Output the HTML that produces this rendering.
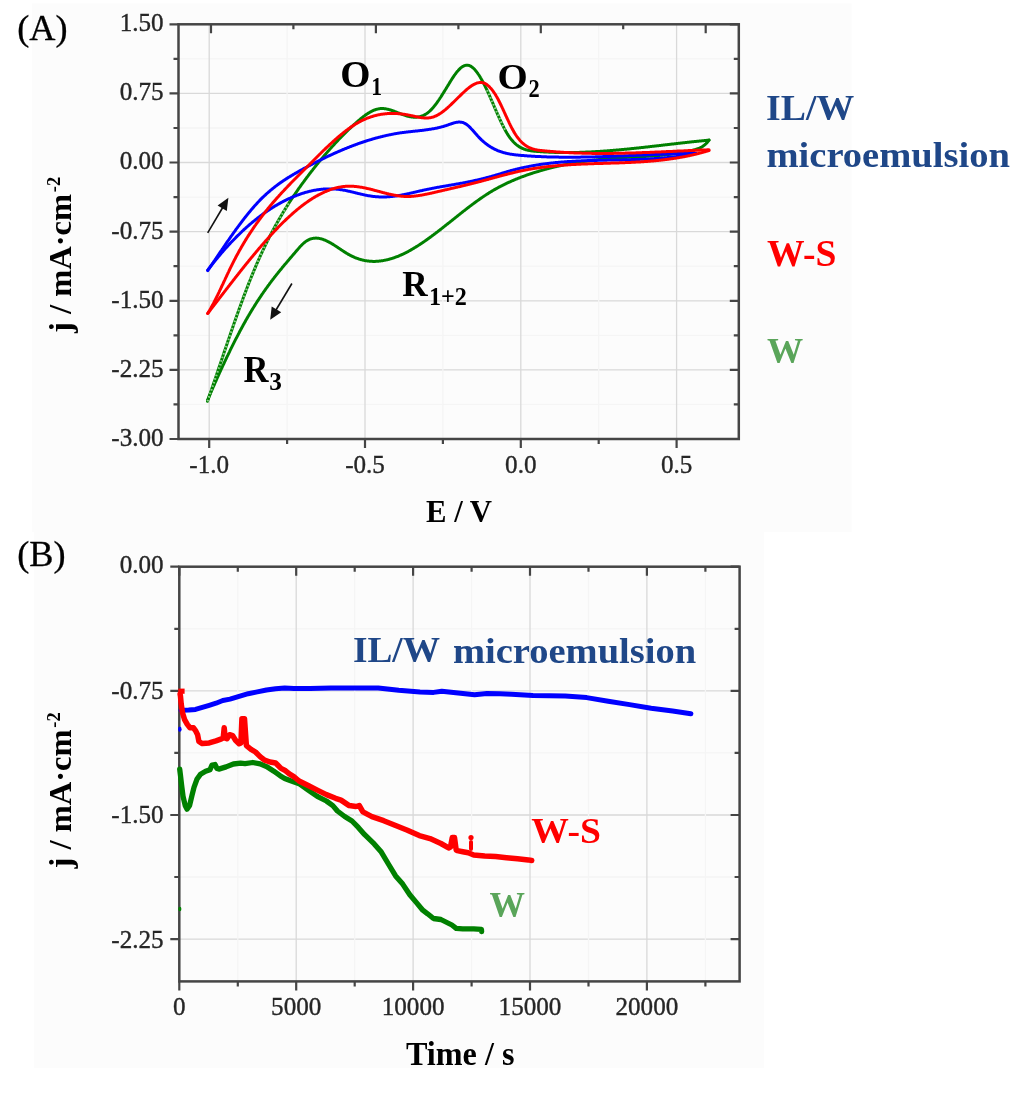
<!DOCTYPE html>
<html><head><meta charset="utf-8"><style>
html,body{margin:0;padding:0;background:#fff;width:1024px;height:1097px;overflow:hidden}
svg{display:block;filter:blur(0.5px)}
text{font-family:"Liberation Serif",serif}
.tk{fill:#262626;stroke:#262626;stroke-width:0.35px}
.tl{font-size:24px}
.at{font-size:32px;font-weight:bold;fill:#111}
.pl{font-size:35px}
.pk{font-size:36px;font-weight:bold;fill:#111}
.sub{font-size:26px}
.lg{font-size:36px;font-weight:bold}
</style></head><body>
<svg width="1024" height="1097" viewBox="0 0 1024 1097">
<rect width="1024" height="1097" fill="#fff"/>
<rect x="32" y="3.5" width="819.5" height="528.5" fill="#fcfcfc"/>
<rect x="34" y="532" width="730" height="536" fill="#fcfcfc"/>
<line x1="178.5" x2="738.8" y1="58.9" y2="58.9" stroke="#f5f5f5" stroke-width="1.3"/>
<line x1="178.5" x2="738.8" y1="93.4" y2="93.4" stroke="#d9d9d9" stroke-width="1.3"/>
<line x1="178.5" x2="738.8" y1="128.0" y2="128.0" stroke="#f5f5f5" stroke-width="1.3"/>
<line x1="178.5" x2="738.8" y1="162.5" y2="162.5" stroke="#d9d9d9" stroke-width="1.3"/>
<line x1="178.5" x2="738.8" y1="197.1" y2="197.1" stroke="#f5f5f5" stroke-width="1.3"/>
<line x1="178.5" x2="738.8" y1="231.7" y2="231.7" stroke="#d9d9d9" stroke-width="1.3"/>
<line x1="178.5" x2="738.8" y1="266.2" y2="266.2" stroke="#f5f5f5" stroke-width="1.3"/>
<line x1="178.5" x2="738.8" y1="300.8" y2="300.8" stroke="#d9d9d9" stroke-width="1.3"/>
<line x1="178.5" x2="738.8" y1="335.3" y2="335.3" stroke="#f5f5f5" stroke-width="1.3"/>
<line x1="178.5" x2="738.8" y1="369.9" y2="369.9" stroke="#d9d9d9" stroke-width="1.3"/>
<line x1="178.5" x2="738.8" y1="404.4" y2="404.4" stroke="#f5f5f5" stroke-width="1.3"/>
<line x1="209.2" x2="209.2" y1="24.3" y2="439.0" stroke="#d9d9d9" stroke-width="1.3"/>
<line x1="287.1" x2="287.1" y1="24.3" y2="439.0" stroke="#f5f5f5" stroke-width="1.3"/>
<line x1="365.0" x2="365.0" y1="24.3" y2="439.0" stroke="#d9d9d9" stroke-width="1.3"/>
<line x1="442.9" x2="442.9" y1="24.3" y2="439.0" stroke="#f5f5f5" stroke-width="1.3"/>
<line x1="520.8" x2="520.8" y1="24.3" y2="439.0" stroke="#d9d9d9" stroke-width="1.3"/>
<line x1="598.7" x2="598.7" y1="24.3" y2="439.0" stroke="#f5f5f5" stroke-width="1.3"/>
<line x1="676.6" x2="676.6" y1="24.3" y2="439.0" stroke="#d9d9d9" stroke-width="1.3"/>
<path d="M178.5,24.3h-9 M738.8,24.3h-9 M178.5,58.9h-5 M738.8,58.9h-5 M178.5,93.4h-9 M738.8,93.4h-9 M178.5,128.0h-5 M738.8,128.0h-5 M178.5,162.5h-9 M738.8,162.5h-9 M178.5,197.1h-5 M738.8,197.1h-5 M178.5,231.7h-9 M738.8,231.7h-9 M178.5,266.2h-5 M738.8,266.2h-5 M178.5,300.8h-9 M738.8,300.8h-9 M178.5,335.3h-5 M738.8,335.3h-5 M178.5,369.9h-9 M738.8,369.9h-9 M178.5,404.4h-5 M738.8,404.4h-5 M178.5,439.0h-9 M738.8,439.0h-9 M209.2,439.0v9 M287.1,439.0v5 M365.0,439.0v9 M442.9,439.0v5 M520.8,439.0v9 M598.7,439.0v5 M676.6,439.0v9 M211.0,24.3v9 M293.4,24.3v5 M375.9,24.3v9 M458.4,24.3v5 M540.8,24.3v9 M623.2,24.3v5 M705.7,24.3v9" stroke="#454545" stroke-width="2.2" fill="none"/>
<rect x="178.5" y="24.3" width="560.3" height="414.7" fill="none" stroke="#454545" stroke-width="2.5"/>
<text transform="translate(163.65,30.58) scale(1.047,1.09)" x="0" y="0" font-size="24" text-anchor="end" class="tk">1.50</text>
<text transform="translate(163.65,99.89) scale(1.047,1.09)" x="0" y="0" font-size="24" text-anchor="end" class="tk">0.75</text>
<text transform="translate(163.65,169.21) scale(1.047,1.09)" x="0" y="0" font-size="24" text-anchor="end" class="tk">0.00</text>
<text transform="translate(163.65,238.53) scale(1.047,1.09)" x="0" y="0" font-size="24" text-anchor="end" class="tk">-0.75</text>
<text transform="translate(163.65,307.84) scale(1.047,1.09)" x="0" y="0" font-size="24" text-anchor="end" class="tk">-1.50</text>
<text transform="translate(163.65,377.16) scale(1.047,1.09)" x="0" y="0" font-size="24" text-anchor="end" class="tk">-2.25</text>
<text transform="translate(163.65,446.48) scale(1.047,1.09)" x="0" y="0" font-size="24" text-anchor="end" class="tk">-3.00</text>
<text transform="translate(209.20,472.55) scale(1.047,1.09)" x="0" y="0" font-size="24" text-anchor="middle" class="tk">-1.0</text>
<text transform="translate(365.00,472.55) scale(1.047,1.09)" x="0" y="0" font-size="24" text-anchor="middle" class="tk">-0.5</text>
<text transform="translate(520.80,472.55) scale(1.047,1.09)" x="0" y="0" font-size="24" text-anchor="middle" class="tk">0.0</text>
<text transform="translate(676.60,472.55) scale(1.047,1.09)" x="0" y="0" font-size="24" text-anchor="middle" class="tk">0.5</text>
<g transform="translate(426.00,521.80) scale(0.9609,1.0095)"><text x="0" y="0" font-size="32" font-weight="bold" text-anchor="start" fill="#000" >E / V</text></g>
<g transform="translate(71.00,333.00) scale(0.9862,1.0169)"><g transform="rotate(-90)"><text x="0" y="0" font-size="32" font-weight="bold" text-anchor="start" fill="#000" >j / mA·cm</text></g></g>
<g transform="translate(59.70,192.17) scale(0.9538,0.9714)"><g transform="rotate(-90)"><text x="0" y="0" font-size="19" font-weight="bold" text-anchor="start" fill="#000" >-2</text></g></g>
<g transform="translate(17.29,39.93) scale(1.0083,1.0212)"><text x="0" y="0" font-size="36"  text-anchor="start" fill="#000" stroke="#000" stroke-width="0.3">(A)</text></g>
<path d="M207.5,400.1 L208.0,399.0 L208.5,397.8 L209.0,396.7 L209.5,395.5 L210.0,394.4 L210.5,393.2 L211.0,392.1 L211.5,390.9 L212.0,389.8 L212.5,388.7 L213.0,387.5 L213.5,386.4 L214.0,385.3 L214.5,384.1 L215.0,383.0 L215.5,381.9 L216.0,380.8 L216.5,379.7 L217.0,378.5 L217.5,377.4 L218.0,376.3 L218.5,375.2 L219.0,374.1 L219.5,373.0 L220.0,371.9 L220.5,370.8 L221.0,369.7 L221.5,368.7 L222.0,367.6 L222.5,366.5 L223.0,365.4 L223.5,364.4 L224.0,363.3 L224.5,362.2 L225.0,361.2 L225.5,360.1 L226.0,359.0 L226.5,358.0 L227.0,356.9 L227.5,355.9 L228.0,354.9 L228.5,353.8 L229.0,352.8 L229.5,351.8 L230.0,350.7 L230.5,349.7 L231.0,348.7 L231.5,347.7 L232.0,346.7 L232.5,345.7 L233.0,344.7 L233.5,343.7 L234.0,342.7 L234.5,341.7 L235.0,340.7 L235.5,339.7 L236.0,338.7 L236.5,337.8 L237.0,336.8 L237.5,335.8 L238.0,334.9 L238.5,333.9 L239.0,333.0 L239.5,332.0 L240.0,331.1 L240.5,330.1 L241.0,329.2 L241.5,328.3 L242.0,327.3 L242.5,326.4 L243.0,325.5 L243.5,324.6 L244.0,323.7 L244.5,322.8 L245.0,321.9 L245.5,321.0 L246.0,320.1 L246.5,319.2 L247.0,318.4 L247.5,317.5 L248.0,316.6 L248.5,315.8 L249.0,314.9 L249.5,314.1 L250.0,313.2 L250.5,312.4 L251.0,311.6 L251.5,310.7 L252.0,309.9 L252.5,309.1 L253.0,308.3 L253.5,307.5 L254.0,306.7 L254.5,305.9 L255.0,305.1 L255.5,304.3 L256.0,303.5 L256.5,302.7 L257.0,301.9 L257.5,301.2 L258.0,300.4 L258.5,299.6 L259.0,298.9 L259.5,298.1 L260.0,297.4 L260.5,296.6 L261.0,295.9 L261.5,295.1 L262.0,294.4 L262.5,293.7 L263.0,293.0 L263.5,292.2 L264.0,291.5 L264.5,290.8 L265.0,290.1 L265.5,289.4 L266.0,288.7 L266.5,288.0 L267.0,287.3 L267.5,286.6 L268.0,285.9 L268.5,285.2 L269.0,284.6 L269.5,283.9 L270.0,283.2 L270.5,282.5 L271.0,281.9 L271.5,281.2 L272.0,280.5 L272.5,279.9 L273.0,279.2 L273.5,278.6 L274.0,277.9 L274.5,277.3 L275.0,276.6 L275.5,276.0 L276.0,275.4 L276.5,274.7 L277.0,274.1 L277.5,273.5 L278.0,272.9 L278.5,272.2 L279.0,271.6 L279.5,271.0 L280.0,270.4 L280.5,269.8 L281.0,269.2 L281.5,268.6 L282.0,267.9 L282.5,267.3 L283.0,266.7 L283.5,266.1 L284.0,265.5 L284.5,264.9 L285.0,264.3 L285.5,263.7 L286.0,263.2 L286.5,262.6 L287.0,262.0 L287.5,261.4 L288.0,260.8 L288.5,260.2 L289.0,259.6 L289.5,259.0 L290.0,258.4 L290.5,257.9 L291.0,257.3 L291.5,256.7 L292.0,256.1 L292.5,255.5 L293.0,254.9 L293.5,254.4 L294.0,253.8 L294.5,253.2 L295.0,252.6 L295.5,252.0 L296.0,251.4 L296.5,250.9 L297.0,250.3 L297.5,249.7 L298.0,249.1 L298.5,248.5 L299.0,248.0 L299.5,247.4 L300.0,246.8 L300.5,246.3 L301.0,245.8 L301.5,245.2 L302.0,244.7 L302.5,244.2 L303.0,243.8 L303.5,243.3 L304.0,242.9 L304.5,242.5 L305.0,242.1 L305.5,241.7 L306.0,241.3 L306.5,241.0 L307.0,240.7 L307.5,240.4 L308.0,240.1 L308.5,239.9 L309.0,239.6 L309.5,239.4 L310.0,239.2 L310.5,239.0 L311.0,238.9 L311.5,238.7 L312.0,238.6 L312.5,238.5 L313.0,238.4 L313.5,238.3 L314.0,238.2 L314.5,238.2 L315.0,238.2 L315.5,238.1 L316.0,238.1 L316.5,238.1 L317.0,238.2 L317.5,238.2 L318.0,238.3 L318.5,238.3 L319.0,238.4 L319.5,238.5 L320.0,238.6 L320.5,238.7 L321.0,238.8 L321.5,238.9 L322.0,239.1 L322.5,239.2 L323.0,239.4 L323.5,239.6 L324.0,239.8 L324.5,240.0 L325.0,240.2 L325.5,240.4 L326.0,240.6 L326.5,240.8 L327.0,241.1 L327.5,241.3 L328.0,241.6 L328.5,241.8 L329.0,242.1 L329.5,242.4 L330.0,242.6 L330.5,242.9 L331.0,243.2 L331.5,243.5 L332.0,243.8 L332.5,244.1 L333.0,244.4 L333.5,244.7 L334.0,245.0 L334.5,245.3 L335.0,245.7 L335.5,246.0 L336.0,246.3 L336.5,246.6 L337.0,247.0 L337.5,247.3 L338.0,247.6 L338.5,248.0 L339.0,248.3 L339.5,248.6 L340.0,249.0 L340.5,249.3 L341.0,249.6 L341.5,250.0 L342.0,250.3 L342.5,250.6 L343.0,251.0 L343.5,251.3 L344.0,251.6 L344.5,251.9 L345.0,252.3 L345.5,252.6 L346.0,252.9 L346.5,253.2 L347.0,253.5 L347.5,253.8 L348.0,254.1 L348.5,254.4 L349.0,254.7 L349.5,254.9 L350.0,255.2 L350.5,255.5 L351.0,255.7 L351.5,256.0 L352.0,256.2 L352.5,256.5 L353.0,256.7 L353.5,256.9 L354.0,257.2 L354.5,257.4 L355.0,257.6 L355.5,257.8 L356.0,258.0 L356.5,258.2 L357.0,258.4 L357.5,258.5 L358.0,258.7 L358.5,258.9 L359.0,259.1 L359.5,259.2 L360.0,259.4 L360.5,259.5 L361.0,259.7 L361.5,259.8 L362.0,259.9 L362.5,260.0 L363.0,260.2 L363.5,260.3 L364.0,260.4 L364.5,260.5 L365.0,260.6 L365.5,260.7 L366.0,260.7 L366.5,260.8 L367.0,260.9 L367.5,261.0 L368.0,261.0 L368.5,261.1 L369.0,261.1 L369.5,261.2 L370.0,261.2 L370.5,261.3 L371.0,261.3 L371.5,261.3 L372.0,261.3 L372.5,261.4 L373.0,261.4 L373.5,261.4 L374.0,261.4 L374.5,261.4 L375.0,261.4 L375.5,261.4 L376.0,261.3 L376.5,261.3 L377.0,261.3 L377.5,261.3 L378.0,261.2 L378.5,261.2 L379.0,261.1 L379.5,261.1 L380.0,261.0 L380.5,261.0 L381.0,260.9 L381.5,260.8 L382.0,260.8 L382.5,260.7 L383.0,260.6 L383.5,260.5 L384.0,260.4 L384.5,260.3 L385.0,260.2 L385.5,260.1 L386.0,260.0 L386.5,259.9 L387.0,259.8 L387.5,259.7 L388.0,259.6 L388.5,259.4 L389.0,259.3 L389.5,259.2 L390.0,259.0 L390.5,258.9 L391.0,258.7 L391.5,258.6 L392.0,258.4 L392.5,258.3 L393.0,258.1 L393.5,257.9 L394.0,257.8 L394.5,257.6 L395.0,257.4 L395.5,257.2 L396.0,257.0 L396.5,256.9 L397.0,256.7 L397.5,256.5 L398.0,256.3 L398.5,256.1 L399.0,255.8 L399.5,255.6 L400.0,255.4 L400.5,255.2 L401.0,255.0 L401.5,254.8 L402.0,254.5 L402.5,254.3 L403.0,254.1 L403.5,253.8 L404.0,253.6 L404.5,253.3 L405.0,253.1 L405.5,252.8 L406.0,252.6 L406.5,252.3 L407.0,252.1 L407.5,251.8 L408.0,251.6 L408.5,251.3 L409.0,251.0 L409.5,250.7 L410.0,250.5 L410.5,250.2 L411.0,249.9 L411.5,249.6 L412.0,249.3 L412.5,249.0 L413.0,248.7 L413.5,248.4 L414.0,248.1 L414.5,247.8 L415.0,247.5 L415.5,247.2 L416.0,246.9 L416.5,246.6 L417.0,246.3 L417.5,246.0 L418.0,245.7 L418.5,245.3 L419.0,245.0 L419.5,244.7 L420.0,244.4 L420.5,244.0 L421.0,243.7 L421.5,243.4 L422.0,243.0 L422.5,242.7 L423.0,242.4 L423.5,242.0 L424.0,241.7 L424.5,241.3 L425.0,241.0 L425.5,240.6 L426.0,240.3 L426.5,239.9 L427.0,239.6 L427.5,239.2 L428.0,238.9 L428.5,238.5 L429.0,238.1 L429.5,237.8 L430.0,237.4 L430.5,237.1 L431.0,236.7 L431.5,236.3 L432.0,235.9 L432.5,235.6 L433.0,235.2 L433.5,234.8 L434.0,234.4 L434.5,234.1 L435.0,233.7 L435.5,233.3 L436.0,232.9 L436.5,232.6 L437.0,232.2 L437.5,231.8 L438.0,231.4 L438.5,231.0 L439.0,230.6 L439.5,230.2 L440.0,229.9 L440.5,229.5 L441.0,229.1 L441.5,228.7 L442.0,228.3 L442.5,227.9 L443.0,227.5 L443.5,227.1 L444.0,226.7 L444.5,226.3 L445.0,225.9 L445.5,225.5 L446.0,225.1 L446.5,224.7 L447.0,224.3 L447.5,223.9 L448.0,223.6 L448.5,223.2 L449.0,222.8 L449.5,222.4 L450.0,222.0 L450.5,221.6 L451.0,221.2 L451.5,220.8 L452.0,220.4 L452.5,220.0 L453.0,219.6 L453.5,219.2 L454.0,218.8 L454.5,218.4 L455.0,218.0 L455.5,217.6 L456.0,217.2 L456.5,216.8 L457.0,216.4 L457.5,216.0 L458.0,215.6 L458.5,215.2 L459.0,214.8 L459.5,214.4 L460.0,214.0 L460.5,213.6 L461.0,213.2 L461.5,212.8 L462.0,212.4 L462.5,212.0 L463.0,211.6 L463.5,211.2 L464.0,210.8 L464.5,210.5 L465.0,210.1 L465.5,209.7 L466.0,209.3 L466.5,208.9 L467.0,208.5 L467.5,208.1 L468.0,207.7 L468.5,207.4 L469.0,207.0 L469.5,206.6 L470.0,206.2 L470.5,205.8 L471.0,205.5 L471.5,205.1 L472.0,204.7 L472.5,204.3 L473.0,204.0 L473.5,203.6 L474.0,203.2 L474.5,202.9 L475.0,202.5 L475.5,202.1 L476.0,201.8 L476.5,201.4 L477.0,201.0 L477.5,200.7 L478.0,200.3 L478.5,200.0 L479.0,199.6 L479.5,199.3 L480.0,198.9 L480.5,198.6 L481.0,198.2 L481.5,197.9 L482.0,197.5 L482.5,197.2 L483.0,196.8 L483.5,196.5 L484.0,196.2 L484.5,195.8 L485.0,195.5 L485.5,195.2 L486.0,194.8 L486.5,194.5 L487.0,194.2 L487.5,193.9 L488.0,193.6 L488.5,193.3 L489.0,192.9 L489.5,192.6 L490.0,192.3 L490.5,192.0 L491.0,191.7 L491.5,191.4 L492.0,191.1 L492.5,190.8 L493.0,190.5 L493.5,190.2 L494.0,189.9 L494.5,189.7 L495.0,189.4 L495.5,189.1 L496.0,188.8 L496.5,188.5 L497.0,188.3 L497.5,188.0 L498.0,187.7 L498.5,187.4 L499.0,187.2 L499.5,186.9 L500.0,186.6 L500.5,186.4 L501.0,186.1 L501.5,185.9 L502.0,185.6 L502.5,185.4 L503.0,185.1 L503.5,184.9 L504.0,184.6 L504.5,184.4 L505.0,184.1 L505.5,183.9 L506.0,183.6 L506.5,183.4 L507.0,183.2 L507.5,182.9 L508.0,182.7 L508.5,182.5 L509.0,182.2 L509.5,182.0 L510.0,181.8 L510.5,181.6 L511.0,181.3 L511.5,181.1 L512.0,180.9 L512.5,180.7 L513.0,180.5 L513.5,180.3 L514.0,180.0 L514.5,179.8 L515.0,179.6 L515.5,179.4 L516.0,179.2 L516.5,179.0 L517.0,178.8 L517.5,178.6 L518.0,178.4 L518.5,178.2 L519.0,178.0 L519.5,177.8 L520.0,177.6 L520.5,177.4 L521.0,177.2 L521.5,177.0 L522.0,176.9 L522.5,176.7 L523.0,176.5 L523.5,176.3 L524.0,176.1 L524.5,175.9 L525.0,175.8 L525.5,175.6 L526.0,175.4 L526.5,175.2 L527.0,175.0 L527.5,174.9 L528.0,174.7 L528.5,174.5 L529.0,174.4 L529.5,174.2 L530.0,174.0 L530.5,173.8 L531.0,173.7 L531.5,173.5 L532.0,173.3 L532.5,173.2 L533.0,173.0 L533.5,172.9 L534.0,172.7 L534.5,172.5 L535.0,172.4 L535.5,172.2 L536.0,172.1 L536.5,171.9 L537.0,171.8 L537.5,171.6 L538.0,171.5 L538.5,171.3 L539.0,171.2 L539.5,171.0 L540.0,170.9 L540.5,170.7 L541.0,170.6 L541.5,170.4 L542.0,170.3 L542.5,170.1 L543.0,170.0 L543.5,169.9 L544.0,169.7 L544.5,169.6 L545.0,169.4 L545.5,169.3 L546.0,169.2 L546.5,169.0 L547.0,168.9 L547.5,168.8 L548.0,168.6 L548.5,168.5 L549.0,168.4 L549.5,168.2 L550.0,168.1 L550.5,168.0 L551.0,167.9 L551.5,167.7 L552.0,167.6 L552.5,167.5 L553.0,167.4 L553.5,167.2 L554.0,167.1 L554.5,167.0 L555.0,166.9 L555.5,166.8 L556.0,166.7 L556.5,166.5 L557.0,166.4 L557.5,166.3 L558.0,166.2 L558.5,166.1 L559.0,166.0 L559.5,165.9 L560.0,165.8 L560.5,165.6 L561.0,165.5 L561.5,165.4 L562.0,165.3 L562.5,165.2 L563.0,165.1 L563.5,165.0 L564.0,164.9 L564.5,164.8 L565.0,164.7 L565.5,164.6 L566.0,164.5 L566.5,164.4 L567.0,164.3 L567.5,164.2 L568.0,164.1 L568.5,164.0 L569.0,163.9 L569.5,163.8 L570.0,163.7 L570.5,163.6 L571.0,163.6 L571.5,163.5 L572.0,163.4 L572.5,163.3 L573.0,163.2 L573.5,163.1 L574.0,163.0 L574.5,162.9 L575.0,162.8 L575.5,162.8 L576.0,162.7 L576.5,162.6 L577.0,162.5 L577.5,162.4 L578.0,162.3 L578.5,162.3 L579.0,162.2 L579.5,162.1 L580.0,162.0 L580.5,162.0 L581.0,161.9 L581.5,161.8 L582.0,161.7 L582.5,161.7 L583.0,161.6 L583.5,161.5 L584.0,161.4 L584.5,161.4 L585.0,161.3 L585.5,161.2 L586.0,161.2 L586.5,161.1 L587.0,161.0 L587.5,160.9 L588.0,160.9 L588.5,160.8 L589.0,160.7 L589.5,160.7 L590.0,160.6 L590.5,160.6 L591.0,160.5 L591.5,160.4 L592.0,160.4 L592.5,160.3 L593.0,160.2 L593.5,160.2 L594.0,160.1 L594.5,160.1 L595.0,160.0 L595.5,159.9 L596.0,159.9 L596.5,159.8 L597.0,159.8 L597.5,159.7 L598.0,159.7 L598.5,159.6 L599.0,159.6 L599.5,159.5 L600.0,159.5 L600.5,159.4 L601.0,159.4 L601.5,159.3 L602.0,159.3 L602.5,159.2 L603.0,159.2 L603.5,159.1 L604.0,159.1 L604.5,159.0 L605.0,159.0 L605.5,158.9 L606.0,158.9 L606.5,158.8 L607.0,158.8 L607.5,158.7 L608.0,158.7 L608.5,158.6 L609.0,158.6 L609.5,158.6 L610.0,158.5 L610.5,158.5 L611.0,158.4 L611.5,158.4 L612.0,158.4 L612.5,158.3 L613.0,158.3 L613.5,158.2 L614.0,158.2 L614.5,158.2 L615.0,158.1 L615.5,158.1 L616.0,158.1 L616.5,158.0 L617.0,158.0 L617.5,157.9 L618.0,157.9 L618.5,157.9 L619.0,157.8 L619.5,157.8 L620.0,157.8 L620.5,157.7 L621.0,157.7 L621.5,157.7 L622.0,157.6 L622.5,157.6 L623.0,157.6 L623.5,157.6 L624.0,157.5 L624.5,157.5 L625.0,157.5 L625.5,157.4 L626.0,157.4 L626.5,157.4 L627.0,157.4 L627.5,157.3 L628.0,157.3 L628.5,157.3 L629.0,157.2 L629.5,157.2 L630.0,157.2 L630.5,157.2 L631.0,157.1 L631.5,157.1 L632.0,157.1 L632.5,157.1 L633.0,157.0 L633.5,157.0 L634.0,157.0 L634.5,157.0 L635.0,156.9 L635.5,156.9 L636.0,156.9 L636.5,156.9 L637.0,156.8 L637.5,156.8 L638.0,156.8 L638.5,156.8 L639.0,156.7 L639.5,156.7 L640.0,156.7 L640.5,156.7 L641.0,156.6 L641.5,156.6 L642.0,156.6 L642.5,156.5 L643.0,156.5 L643.5,156.5 L644.0,156.5 L644.5,156.4 L645.0,156.4 L645.5,156.4 L646.0,156.4 L646.5,156.3 L647.0,156.3 L647.5,156.3 L648.0,156.2 L648.5,156.2 L649.0,156.2 L649.5,156.1 L650.0,156.1 L650.5,156.1 L651.0,156.0 L651.5,156.0 L652.0,156.0 L652.5,156.0 L653.0,155.9 L653.5,155.9 L654.0,155.8 L654.5,155.8 L655.0,155.8 L655.5,155.7 L656.0,155.7 L656.5,155.7 L657.0,155.6 L657.5,155.6 L658.0,155.5 L658.5,155.5 L659.0,155.5 L659.5,155.4 L660.0,155.4 L660.5,155.3 L661.0,155.3 L661.5,155.2 L662.0,155.2 L662.5,155.1 L663.0,155.1 L663.5,155.0 L664.0,155.0 L664.5,154.9 L665.0,154.9 L665.5,154.8 L666.0,154.8 L666.5,154.7 L667.0,154.7 L667.5,154.6 L668.0,154.6 L668.5,154.5 L669.0,154.5 L669.5,154.4 L670.0,154.3 L670.5,154.3 L671.0,154.2 L671.5,154.1 L672.0,154.1 L672.5,154.0 L673.0,153.9 L673.5,153.9 L674.0,153.8 L674.5,153.7 L675.0,153.7 L675.5,153.6 L676.0,153.5 L676.5,153.4 L677.0,153.4 L677.5,153.3 L678.0,153.2 L678.5,153.1 L679.0,153.0 L679.5,153.0 L680.0,152.9 L680.5,152.8 L681.0,152.7 L681.5,152.6 L682.0,152.5 L682.5,152.4 L683.0,152.3 L683.5,152.2 L684.0,152.1 L684.5,152.0 L685.0,151.9 L685.5,151.8 L686.0,151.7 L686.5,151.6 L687.0,151.5 L687.5,151.4 L688.0,151.3 L688.5,151.2 L689.0,151.1 L689.5,151.0 L690.0,150.9 L690.5,150.7 L691.0,150.6 L691.5,150.5 L692.0,150.4 L692.5,150.3 L693.0,150.1 L693.5,150.0 L694.0,149.9 L694.5,149.7 L695.0,149.6 L695.5,149.5 L696.0,149.3 L696.5,149.2 L697.0,149.0 L697.5,148.9 L698.0,148.7 L698.5,148.5 L699.0,148.3 L699.5,148.1 L700.0,147.8 L700.5,147.6 L701.0,147.3 L701.5,147.1 L702.0,146.8 L702.5,146.5 L703.0,146.1 L703.5,145.8 L704.0,145.4 L704.5,145.0 L705.0,144.6 L705.5,144.1 L706.0,143.7 L706.5,143.1 L707.0,142.6 L707.5,142.1 L708.0,141.5 L708.5,140.8 L709.0,140.2" stroke="#008000" stroke-width="3" fill="none" stroke-linejoin="round" stroke-linecap="round"/>
<path d="M207.5,401.3 L208.0,399.8 L208.5,398.4 L209.0,396.9 L209.5,395.5 L210.0,394.0 L210.5,392.6 L211.0,391.1 L211.5,389.7 L212.0,388.2 L212.5,386.7 L213.0,385.3 L213.5,383.8 L214.0,382.3 L214.5,380.9 L215.0,379.4 L215.5,377.9 L216.0,376.4 L216.5,375.0 L217.0,373.5 L217.5,372.0 L218.0,370.5 L218.5,369.0 L219.0,367.6 L219.5,366.1 L220.0,364.6 L220.5,363.1 L221.0,361.7 L221.5,360.2 L222.0,358.7 L222.5,357.2 L223.0,355.7 L223.5,354.3 L224.0,352.8 L224.5,351.3 L225.0,349.8 L225.5,348.4 L226.0,346.9 L226.5,345.4 L227.0,344.0 L227.5,342.5 L228.0,341.0 L228.5,339.6 L229.0,338.1 L229.5,336.6 L230.0,335.2 L230.5,333.7 L231.0,332.3 L231.5,330.8 L232.0,329.4 L232.5,328.0 L233.0,326.5 L233.5,325.1 L234.0,323.6 L234.5,322.2 L235.0,320.8 L235.5,319.4 L236.0,317.9 L236.5,316.5 L237.0,315.1 L237.5,313.7 L238.0,312.3 L238.5,310.9 L239.0,309.5 L239.5,308.1 L240.0,306.8 L240.5,305.4 L241.0,304.0 L241.5,302.6 L242.0,301.3 L242.5,299.9 L243.0,298.6 L243.5,297.2 L244.0,295.9 L244.5,294.5 L245.0,293.2 L245.5,291.9 L246.0,290.6 L246.5,289.3 L247.0,288.0 L247.5,286.7 L248.0,285.4 L248.5,284.1 L249.0,282.8 L249.5,281.5 L250.0,280.3 L250.5,279.0 L251.0,277.8 L251.5,276.5 L252.0,275.3 L252.5,274.1 L253.0,272.9 L253.5,271.7 L254.0,270.5 L254.5,269.3 L255.0,268.1 L255.5,266.9 L256.0,265.7 L256.5,264.6 L257.0,263.4 L257.5,262.3 L258.0,261.1 L258.5,260.0 L259.0,258.9 L259.5,257.8 L260.0,256.7 L260.5,255.6 L261.0,254.5 L261.5,253.4 L262.0,252.3 L262.5,251.2 L263.0,250.2 L263.5,249.1 L264.0,248.1 L264.5,247.0 L265.0,246.0 L265.5,244.9 L266.0,243.9 L266.5,242.9 L267.0,241.9 L267.5,240.9 L268.0,239.9 L268.5,238.9 L269.0,237.9 L269.5,236.9 L270.0,236.0 L270.5,235.0 L271.0,234.0 L271.5,233.1 L272.0,232.1 L272.5,231.2 L273.0,230.2 L273.5,229.3 L274.0,228.4 L274.5,227.5 L275.0,226.6 L275.5,225.6 L276.0,224.7 L276.5,223.8 L277.0,223.0 L277.5,222.1 L278.0,221.2 L278.5,220.3 L279.0,219.4 L279.5,218.6 L280.0,217.7 L280.5,216.9 L281.0,216.0 L281.5,215.2 L282.0,214.3 L282.5,213.5 L283.0,212.6 L283.5,211.8 L284.0,211.0 L284.5,210.2 L285.0,209.4 L285.5,208.6 L286.0,207.8 L286.5,207.0 L287.0,206.2 L287.5,205.4 L288.0,204.6 L288.5,203.8 L289.0,203.0 L289.5,202.2 L290.0,201.5 L290.5,200.7 L291.0,199.9 L291.5,199.2 L292.0,198.4 L292.5,197.7 L293.0,196.9 L293.5,196.2 L294.0,195.4 L294.5,194.7 L295.0,194.0 L295.5,193.2 L296.0,192.5 L296.5,191.8 L297.0,191.1 L297.5,190.4 L298.0,189.6 L298.5,188.9 L299.0,188.2 L299.5,187.5 L300.0,186.8 L300.5,186.1 L301.0,185.4 L301.5,184.7 L302.0,184.0 L302.5,183.3 L303.0,182.7 L303.5,182.0 L304.0,181.3 L304.5,180.6 L305.0,179.9 L305.5,179.3 L306.0,178.6 L306.5,177.9 L307.0,177.2 L307.5,176.6 L308.0,175.9 L308.5,175.3 L309.0,174.6 L309.5,173.9 L310.0,173.3 L310.5,172.6 L311.0,172.0 L311.5,171.3 L312.0,170.7 L312.5,170.1 L313.0,169.4 L313.5,168.8 L314.0,168.2 L314.5,167.5 L315.0,166.9 L315.5,166.3 L316.0,165.6 L316.5,165.0 L317.0,164.4 L317.5,163.8 L318.0,163.2 L318.5,162.5 L319.0,161.9 L319.5,161.3 L320.0,160.7 L320.5,160.1 L321.0,159.5 L321.5,158.9 L322.0,158.3 L322.5,157.7 L323.0,157.1 L323.5,156.5 L324.0,155.9 L324.5,155.4 L325.0,154.8 L325.5,154.2 L326.0,153.6 L326.5,153.0 L327.0,152.5 L327.5,151.9 L328.0,151.3 L328.5,150.7 L329.0,150.2 L329.5,149.6 L330.0,149.0 L330.5,148.5 L331.0,147.9 L331.5,147.4 L332.0,146.8 L332.5,146.3 L333.0,145.7 L333.5,145.2 L334.0,144.6 L334.5,144.1 L335.0,143.5 L335.5,143.0 L336.0,142.5 L336.5,141.9 L337.0,141.4 L337.5,140.9 L338.0,140.4 L338.5,139.8 L339.0,139.3 L339.5,138.8 L340.0,138.3 L340.5,137.8 L341.0,137.2 L341.5,136.7 L342.0,136.2 L342.5,135.7 L343.0,135.2 L343.5,134.7 L344.0,134.2 L344.5,133.7 L345.0,133.2 L345.5,132.7 L346.0,132.2 L346.5,131.7 L347.0,131.2 L347.5,130.8 L348.0,130.3 L348.5,129.8 L349.0,129.3 L349.5,128.8 L350.0,128.4 L350.5,127.9 L351.0,127.4 L351.5,126.9 L352.0,126.5 L352.5,126.0 L353.0,125.6 L353.5,125.1 L354.0,124.6 L354.5,124.2 L355.0,123.7 L355.5,123.3 L356.0,122.8 L356.5,122.4 L357.0,121.9 L357.5,121.5 L358.0,121.1 L358.5,120.6 L359.0,120.2 L359.5,119.8 L360.0,119.3 L360.5,118.9 L361.0,118.5 L361.5,118.1 L362.0,117.7 L362.5,117.3 L363.0,116.9 L363.5,116.5 L364.0,116.2 L364.5,115.8 L365.0,115.4 L365.5,115.1 L366.0,114.7 L366.5,114.4 L367.0,114.0 L367.5,113.7 L368.0,113.4 L368.5,113.1 L369.0,112.8 L369.5,112.5 L370.0,112.2 L370.5,111.9 L371.0,111.6 L371.5,111.4 L372.0,111.1 L372.5,110.9 L373.0,110.7 L373.5,110.4 L374.0,110.2 L374.5,110.0 L375.0,109.8 L375.5,109.7 L376.0,109.5 L376.5,109.4 L377.0,109.2 L377.5,109.1 L378.0,109.0 L378.5,108.9 L379.0,108.8 L379.5,108.7 L380.0,108.6 L380.5,108.6 L381.0,108.6 L381.5,108.5 L382.0,108.5 L382.5,108.5 L383.0,108.6 L383.5,108.6 L384.0,108.6 L384.5,108.7 L385.0,108.7 L385.5,108.8 L386.0,108.9 L386.5,109.0 L387.0,109.1 L387.5,109.2 L388.0,109.3 L388.5,109.4 L389.0,109.6 L389.5,109.7 L390.0,109.8 L390.5,110.0 L391.0,110.2 L391.5,110.3 L392.0,110.5 L392.5,110.7 L393.0,110.8 L393.5,111.0 L394.0,111.2 L394.5,111.4 L395.0,111.6 L395.5,111.8 L396.0,112.0 L396.5,112.2 L397.0,112.4 L397.5,112.6 L398.0,112.8 L398.5,113.0 L399.0,113.2 L399.5,113.4 L400.0,113.6 L400.5,113.8 L401.0,113.9 L401.5,114.1 L402.0,114.3 L402.5,114.5 L403.0,114.7 L403.5,114.9 L404.0,115.0 L404.5,115.2 L405.0,115.4 L405.5,115.5 L406.0,115.7 L406.5,115.8 L407.0,116.0 L407.5,116.1 L408.0,116.3 L408.5,116.4 L409.0,116.5 L409.5,116.6 L410.0,116.7 L410.5,116.8 L411.0,116.9 L411.5,117.0 L412.0,117.0 L412.5,117.1 L413.0,117.1 L413.5,117.2 L414.0,117.2 L414.5,117.2 L415.0,117.2 L415.5,117.2 L416.0,117.2 L416.5,117.2 L417.0,117.1 L417.5,117.1 L418.0,117.0 L418.5,116.9 L419.0,116.8 L419.5,116.7 L420.0,116.6 L420.5,116.5 L421.0,116.3 L421.5,116.2 L422.0,116.0 L422.5,115.8 L423.0,115.6 L423.5,115.4 L424.0,115.1 L424.5,114.9 L425.0,114.6 L425.5,114.3 L426.0,114.0 L426.5,113.7 L427.0,113.3 L427.5,113.0 L428.0,112.6 L428.5,112.2 L429.0,111.8 L429.5,111.3 L430.0,110.9 L430.5,110.4 L431.0,109.9 L431.5,109.4 L432.0,108.9 L432.5,108.3 L433.0,107.7 L433.5,107.1 L434.0,106.5 L434.5,105.9 L435.0,105.3 L435.5,104.6 L436.0,104.0 L436.5,103.3 L437.0,102.6 L437.5,101.9 L438.0,101.2 L438.5,100.5 L439.0,99.7 L439.5,99.0 L440.0,98.2 L440.5,97.5 L441.0,96.7 L441.5,95.9 L442.0,95.1 L442.5,94.3 L443.0,93.5 L443.5,92.7 L444.0,91.9 L444.5,91.1 L445.0,90.3 L445.5,89.5 L446.0,88.7 L446.5,87.9 L447.0,87.0 L447.5,86.2 L448.0,85.4 L448.5,84.6 L449.0,83.8 L449.5,82.9 L450.0,82.1 L450.5,81.3 L451.0,80.5 L451.5,79.7 L452.0,78.9 L452.5,78.2 L453.0,77.4 L453.5,76.6 L454.0,75.9 L454.5,75.2 L455.0,74.5 L455.5,73.8 L456.0,73.1 L456.5,72.5 L457.0,71.8 L457.5,71.2 L458.0,70.7 L458.5,70.1 L459.0,69.6 L459.5,69.1 L460.0,68.6 L460.5,68.1 L461.0,67.7 L461.5,67.3 L462.0,67.0 L462.5,66.6 L463.0,66.3 L463.5,66.1 L464.0,65.8 L464.5,65.6 L465.0,65.5 L465.5,65.4 L466.0,65.3 L466.5,65.2 L467.0,65.2 L467.5,65.2 L468.0,65.3 L468.5,65.4 L469.0,65.5 L469.5,65.7 L470.0,65.9 L470.5,66.1 L471.0,66.4 L471.5,66.7 L472.0,67.1 L472.5,67.5 L473.0,67.9 L473.5,68.3 L474.0,68.8 L474.5,69.3 L475.0,69.9 L475.5,70.5 L476.0,71.1 L476.5,71.7 L477.0,72.4 L477.5,73.0 L478.0,73.8 L478.5,74.5 L479.0,75.2 L479.5,76.0 L480.0,76.8 L480.5,77.7 L481.0,78.5 L481.5,79.4 L482.0,80.3 L482.5,81.2 L483.0,82.1 L483.5,83.1 L484.0,84.1 L484.5,85.0 L485.0,86.0 L485.5,87.1 L486.0,88.1 L486.5,89.1 L487.0,90.2 L487.5,91.3 L488.0,92.4 L488.5,93.5 L489.0,94.6 L489.5,95.7 L490.0,96.8 L490.5,97.9 L491.0,99.1 L491.5,100.2 L492.0,101.4 L492.5,102.5 L493.0,103.7 L493.5,104.9 L494.0,106.0 L494.5,107.2 L495.0,108.3 L495.5,109.5 L496.0,110.6 L496.5,111.8 L497.0,112.9 L497.5,114.1 L498.0,115.2 L498.5,116.3 L499.0,117.4 L499.5,118.6 L500.0,119.6 L500.5,120.7 L501.0,121.8 L501.5,122.9 L502.0,123.9 L502.5,124.9 L503.0,125.9 L503.5,126.9 L504.0,127.9 L504.5,128.8 L505.0,129.8 L505.5,130.7 L506.0,131.6 L506.5,132.4 L507.0,133.3 L507.5,134.1 L508.0,134.9 L508.5,135.6 L509.0,136.4 L509.5,137.1 L510.0,137.8 L510.5,138.5 L511.0,139.1 L511.5,139.7 L512.0,140.3 L512.5,140.9 L513.0,141.4 L513.5,142.0 L514.0,142.5 L514.5,143.0 L515.0,143.5 L515.5,143.9 L516.0,144.3 L516.5,144.8 L517.0,145.2 L517.5,145.5 L518.0,145.9 L518.5,146.2 L519.0,146.6 L519.5,146.9 L520.0,147.2 L520.5,147.5 L521.0,147.7 L521.5,148.0 L522.0,148.2 L522.5,148.5 L523.0,148.7 L523.5,148.9 L524.0,149.1 L524.5,149.3 L525.0,149.4 L525.5,149.6 L526.0,149.8 L526.5,149.9 L527.0,150.0 L527.5,150.1 L528.0,150.3 L528.5,150.4 L529.0,150.5 L529.5,150.6 L530.0,150.6 L530.5,150.7 L531.0,150.8 L531.5,150.9 L532.0,150.9 L532.5,151.0 L533.0,151.0 L533.5,151.1 L534.0,151.2 L534.5,151.2 L535.0,151.2 L535.5,151.3 L536.0,151.3 L536.5,151.4 L537.0,151.4 L537.5,151.4 L538.0,151.5 L538.5,151.5 L539.0,151.6 L539.5,151.6 L540.0,151.6 L540.5,151.7 L541.0,151.7 L541.5,151.7 L542.0,151.8 L542.5,151.8 L543.0,151.8 L543.5,151.9 L544.0,151.9 L544.5,151.9 L545.0,152.0 L545.5,152.0 L546.0,152.0 L546.5,152.0 L547.0,152.1 L547.5,152.1 L548.0,152.1 L548.5,152.1 L549.0,152.2 L549.5,152.2 L550.0,152.2 L550.5,152.2 L551.0,152.2 L551.5,152.3 L552.0,152.3 L552.5,152.3 L553.0,152.3 L553.5,152.3 L554.0,152.3 L554.5,152.4 L555.0,152.4 L555.5,152.4 L556.0,152.4 L556.5,152.4 L557.0,152.4 L557.5,152.4 L558.0,152.5 L558.5,152.5 L559.0,152.5 L559.5,152.5 L560.0,152.5 L560.5,152.5 L561.0,152.5 L561.5,152.5 L562.0,152.5 L562.5,152.5 L563.0,152.5 L563.5,152.5 L564.0,152.5 L564.5,152.5 L565.0,152.5 L565.5,152.5 L566.0,152.5 L566.5,152.5 L567.0,152.5 L567.5,152.5 L568.0,152.5 L568.5,152.5 L569.0,152.5 L569.5,152.5 L570.0,152.5 L570.5,152.5 L571.0,152.5 L571.5,152.5 L572.0,152.5 L572.5,152.5 L573.0,152.5 L573.5,152.5 L574.0,152.5 L574.5,152.5 L575.0,152.5 L575.5,152.4 L576.0,152.4 L576.5,152.4 L577.0,152.4 L577.5,152.4 L578.0,152.4 L578.5,152.4 L579.0,152.4 L579.5,152.4 L580.0,152.3 L580.5,152.3 L581.0,152.3 L581.5,152.3 L582.0,152.3 L582.5,152.3 L583.0,152.2 L583.5,152.2 L584.0,152.2 L584.5,152.2 L585.0,152.2 L585.5,152.1 L586.0,152.1 L586.5,152.1 L587.0,152.1 L587.5,152.1 L588.0,152.0 L588.5,152.0 L589.0,152.0 L589.5,152.0 L590.0,151.9 L590.5,151.9 L591.0,151.9 L591.5,151.9 L592.0,151.8 L592.5,151.8 L593.0,151.8 L593.5,151.8 L594.0,151.7 L594.5,151.7 L595.0,151.7 L595.5,151.6 L596.0,151.6 L596.5,151.6 L597.0,151.6 L597.5,151.5 L598.0,151.5 L598.5,151.5 L599.0,151.4 L599.5,151.4 L600.0,151.4 L600.5,151.3 L601.0,151.3 L601.5,151.3 L602.0,151.2 L602.5,151.2 L603.0,151.2 L603.5,151.1 L604.0,151.1 L604.5,151.1 L605.0,151.0 L605.5,151.0 L606.0,150.9 L606.5,150.9 L607.0,150.9 L607.5,150.8 L608.0,150.8 L608.5,150.8 L609.0,150.7 L609.5,150.7 L610.0,150.6 L610.5,150.6 L611.0,150.6 L611.5,150.5 L612.0,150.5 L612.5,150.4 L613.0,150.4 L613.5,150.3 L614.0,150.3 L614.5,150.3 L615.0,150.2 L615.5,150.2 L616.0,150.1 L616.5,150.1 L617.0,150.0 L617.5,150.0 L618.0,150.0 L618.5,149.9 L619.0,149.9 L619.5,149.8 L620.0,149.8 L620.5,149.7 L621.0,149.7 L621.5,149.6 L622.0,149.6 L622.5,149.5 L623.0,149.5 L623.5,149.4 L624.0,149.4 L624.5,149.3 L625.0,149.3 L625.5,149.2 L626.0,149.2 L626.5,149.2 L627.0,149.1 L627.5,149.1 L628.0,149.0 L628.5,149.0 L629.0,148.9 L629.5,148.9 L630.0,148.8 L630.5,148.7 L631.0,148.7 L631.5,148.6 L632.0,148.6 L632.5,148.5 L633.0,148.5 L633.5,148.4 L634.0,148.4 L634.5,148.3 L635.0,148.3 L635.5,148.2 L636.0,148.2 L636.5,148.1 L637.0,148.1 L637.5,148.0 L638.0,148.0 L638.5,147.9 L639.0,147.9 L639.5,147.8 L640.0,147.7 L640.5,147.7 L641.0,147.6 L641.5,147.6 L642.0,147.5 L642.5,147.5 L643.0,147.4 L643.5,147.4 L644.0,147.3 L644.5,147.3 L645.0,147.2 L645.5,147.1 L646.0,147.1 L646.5,147.0 L647.0,147.0 L647.5,146.9 L648.0,146.9 L648.5,146.8 L649.0,146.7 L649.5,146.7 L650.0,146.6 L650.5,146.6 L651.0,146.5 L651.5,146.5 L652.0,146.4 L652.5,146.3 L653.0,146.3 L653.5,146.2 L654.0,146.2 L654.5,146.1 L655.0,146.1 L655.5,146.0 L656.0,145.9 L656.5,145.9 L657.0,145.8 L657.5,145.8 L658.0,145.7 L658.5,145.7 L659.0,145.6 L659.5,145.5 L660.0,145.5 L660.5,145.4 L661.0,145.4 L661.5,145.3 L662.0,145.2 L662.5,145.2 L663.0,145.1 L663.5,145.1 L664.0,145.0 L664.5,145.0 L665.0,144.9 L665.5,144.8 L666.0,144.8 L666.5,144.7 L667.0,144.7 L667.5,144.6 L668.0,144.6 L668.5,144.5 L669.0,144.4 L669.5,144.4 L670.0,144.3 L670.5,144.3 L671.0,144.2 L671.5,144.1 L672.0,144.1 L672.5,144.0 L673.0,144.0 L673.5,143.9 L674.0,143.9 L674.5,143.8 L675.0,143.7 L675.5,143.7 L676.0,143.6 L676.5,143.6 L677.0,143.5 L677.5,143.5 L678.0,143.4 L678.5,143.3 L679.0,143.3 L679.5,143.2 L680.0,143.2 L680.5,143.1 L681.0,143.1 L681.5,143.0 L682.0,142.9 L682.5,142.9 L683.0,142.8 L683.5,142.8 L684.0,142.7 L684.5,142.7 L685.0,142.6 L685.5,142.6 L686.0,142.5 L686.5,142.4 L687.0,142.4 L687.5,142.3 L688.0,142.3 L688.5,142.2 L689.0,142.2 L689.5,142.1 L690.0,142.1 L690.5,142.0 L691.0,141.9 L691.5,141.9 L692.0,141.8 L692.5,141.8 L693.0,141.7 L693.5,141.7 L694.0,141.6 L694.5,141.6 L695.0,141.5 L695.5,141.5 L696.0,141.4 L696.5,141.4 L697.0,141.3 L697.5,141.3 L698.0,141.2 L698.5,141.2 L699.0,141.1 L699.5,141.1 L700.0,141.0 L700.5,141.0 L701.0,140.9 L701.5,140.9 L702.0,140.8 L702.5,140.8 L703.0,140.7 L703.5,140.7 L704.0,140.6 L704.5,140.6 L705.0,140.5 L705.5,140.5 L706.0,140.4 L706.5,140.4 L707.0,140.3 L707.5,140.3 L708.0,140.2 L708.5,140.2 L709.0,140.1" stroke="#008000" stroke-width="3" fill="none" stroke-linejoin="round" stroke-linecap="round"/>
<path d="M207.5,401.3 L208.0,399.8 L208.5,398.4 L209.0,396.9 L209.5,395.5 L210.0,394.0 L210.5,392.6 L211.0,391.1 L211.5,389.7 L212.0,388.2 L212.5,386.7 L213.0,385.3 L213.5,383.8 L214.0,382.3 L214.5,380.9 L215.0,379.4 L215.5,377.9 L216.0,376.4 L216.5,375.0 L217.0,373.5 L217.5,372.0 L218.0,370.5 L218.5,369.0 L219.0,367.6 L219.5,366.1 L220.0,364.6 L220.5,363.1 L221.0,361.7 L221.5,360.2 L222.0,358.7 L222.5,357.2 L223.0,355.7 L223.5,354.3 L224.0,352.8 L224.5,351.3 L225.0,349.8 L225.5,348.4 L226.0,346.9 L226.5,345.4 L227.0,344.0 L227.5,342.5 L228.0,341.0 L228.5,339.6 L229.0,338.1 L229.5,336.6 L230.0,335.2 L230.5,333.7 L231.0,332.3 L231.5,330.8 L232.0,329.4 L232.5,328.0 L233.0,326.5 L233.5,325.1 L234.0,323.6 L234.5,322.2 L235.0,320.8 L235.5,319.4 L236.0,317.9 L236.5,316.5 L237.0,315.1 L237.5,313.7 L238.0,312.3 L238.5,310.9 L239.0,309.5 L239.5,308.1 L240.0,306.8 L240.5,305.4 L241.0,304.0 L241.5,302.6 L242.0,301.3 L242.5,299.9 L243.0,298.6 L243.5,297.2 L244.0,295.9 L244.5,294.5 L245.0,293.2 L245.5,291.9 L246.0,290.6 L246.5,289.3 L247.0,288.0 L247.5,286.7 L248.0,285.4 L248.5,284.1 L249.0,282.8 L249.5,281.5 L250.0,280.3 L250.5,279.0 L251.0,277.8 L251.5,276.5 L252.0,275.3 L252.5,274.1 L253.0,272.9 L253.5,271.7 L254.0,270.5 L254.5,269.3 L255.0,268.1 L255.5,266.9 L256.0,265.7 L256.5,264.6 L257.0,263.4 L257.5,262.3 L258.0,261.1 L258.5,260.0 L259.0,258.9 L259.5,257.8 L260.0,256.7 L260.5,255.6 L261.0,254.5 L261.5,253.4 L262.0,252.3 L262.5,251.2 L263.0,250.2 L263.5,249.1 L264.0,248.1 L264.5,247.0 L265.0,246.0 L265.5,244.9 L266.0,243.9 L266.5,242.9 L267.0,241.9 L267.5,240.9 L268.0,239.9 L268.5,238.9 L269.0,237.9 L269.5,236.9 L270.0,236.0 L270.5,235.0 L271.0,234.0 L271.5,233.1 L272.0,232.1 L272.5,231.2 L273.0,230.2 L273.5,229.3 L274.0,228.4 L274.5,227.5 L275.0,226.6 L275.5,225.6 L276.0,224.7 L276.5,223.8 L277.0,223.0 L277.5,222.1 L278.0,221.2 L278.5,220.3 L279.0,219.4 L279.5,218.6 L280.0,217.7 L280.5,216.9 L281.0,216.0 L281.5,215.2 L282.0,214.3 L282.5,213.5 L283.0,212.6 L283.5,211.8 L284.0,211.0 L284.5,210.2 L285.0,209.4 L285.5,208.6 L286.0,207.8 L286.5,207.0 L287.0,206.2 L287.5,205.4 L288.0,204.6 L288.5,203.8 L289.0,203.0 L289.5,202.2 L290.0,201.5" stroke="#8ccf8c" stroke-width="2.2" stroke-dasharray="1.6,2.2" fill="none"/>
<path d="M487.0,90.2 L487.5,91.3 L488.0,92.4 L488.5,93.5 L489.0,94.6 L489.5,95.7 L490.0,96.8 L490.5,97.9 L491.0,99.1 L491.5,100.2 L492.0,101.4 L492.5,102.5 L493.0,103.7 L493.5,104.9 L494.0,106.0 L494.5,107.2 L495.0,108.3 L495.5,109.5 L496.0,110.6 L496.5,111.8 L497.0,112.9 L497.5,114.1 L498.0,115.2 L498.5,116.3 L499.0,117.4 L499.5,118.6 L500.0,119.6 L500.5,120.7 L501.0,121.8 L501.5,122.9 L502.0,123.9 L502.5,124.9 L503.0,125.9 L503.5,126.9 L504.0,127.9 L504.5,128.8 L505.0,129.8 L505.5,130.7 L506.0,131.6" stroke="#8ccf8c" stroke-width="2.2" stroke-dasharray="1.6,2.2" fill="none"/>
<path d="M207.7,270.6 L208.2,269.8 L208.7,269.1 L209.2,268.4 L209.7,267.6 L210.2,266.9 L210.7,266.2 L211.2,265.4 L211.7,264.7 L212.2,264.0 L212.7,263.2 L213.2,262.5 L213.7,261.7 L214.2,261.0 L214.7,260.3 L215.2,259.5 L215.7,258.8 L216.2,258.1 L216.7,257.3 L217.2,256.6 L217.7,255.8 L218.2,255.1 L218.7,254.4 L219.2,253.6 L219.7,252.9 L220.2,252.2 L220.7,251.4 L221.2,250.7 L221.7,250.0 L222.2,249.2 L222.7,248.5 L223.2,247.8 L223.7,247.0 L224.2,246.3 L224.7,245.6 L225.2,244.8 L225.7,244.1 L226.2,243.4 L226.7,242.7 L227.2,241.9 L227.7,241.2 L228.2,240.5 L228.7,239.8 L229.2,239.1 L229.7,238.3 L230.2,237.6 L230.7,236.9 L231.2,236.2 L231.7,235.5 L232.2,234.8 L232.7,234.1 L233.2,233.4 L233.7,232.7 L234.2,232.0 L234.7,231.3 L235.2,230.6 L235.7,229.9 L236.2,229.2 L236.7,228.5 L237.2,227.8 L237.7,227.2 L238.2,226.5 L238.7,225.8 L239.2,225.1 L239.7,224.5 L240.2,223.8 L240.7,223.1 L241.2,222.5 L241.7,221.8 L242.2,221.1 L242.7,220.5 L243.2,219.8 L243.7,219.2 L244.2,218.5 L244.7,217.9 L245.2,217.3 L245.7,216.6 L246.2,216.0 L246.7,215.4 L247.2,214.7 L247.7,214.1 L248.2,213.5 L248.7,212.9 L249.2,212.3 L249.7,211.7 L250.2,211.1 L250.7,210.5 L251.2,209.9 L251.7,209.3 L252.2,208.7 L252.7,208.1 L253.2,207.6 L253.7,207.0 L254.2,206.4 L254.7,205.8 L255.2,205.3 L255.7,204.7 L256.2,204.2 L256.7,203.6 L257.2,203.1 L257.7,202.5 L258.2,202.0 L258.7,201.5 L259.2,201.0 L259.7,200.4 L260.2,199.9 L260.7,199.4 L261.2,198.9 L261.7,198.4 L262.2,197.9 L262.7,197.4 L263.2,197.0 L263.7,196.5 L264.2,196.0 L264.7,195.5 L265.2,195.1 L265.7,194.6 L266.2,194.1 L266.7,193.7 L267.2,193.2 L267.7,192.8 L268.2,192.4 L268.7,191.9 L269.2,191.5 L269.7,191.1 L270.2,190.6 L270.7,190.2 L271.2,189.8 L271.7,189.4 L272.2,189.0 L272.7,188.6 L273.2,188.2 L273.7,187.8 L274.2,187.4 L274.7,187.0 L275.2,186.6 L275.7,186.2 L276.2,185.8 L276.7,185.5 L277.2,185.1 L277.7,184.7 L278.2,184.4 L278.7,184.0 L279.2,183.6 L279.7,183.3 L280.2,182.9 L280.7,182.6 L281.2,182.2 L281.7,181.9 L282.2,181.5 L282.7,181.2 L283.2,180.9 L283.7,180.5 L284.2,180.2 L284.7,179.9 L285.2,179.5 L285.7,179.2 L286.2,178.9 L286.7,178.6 L287.2,178.2 L287.7,177.9 L288.2,177.6 L288.7,177.3 L289.2,177.0 L289.7,176.7 L290.2,176.4 L290.7,176.1 L291.2,175.8 L291.7,175.5 L292.2,175.2 L292.7,174.9 L293.2,174.6 L293.7,174.3 L294.2,174.0 L294.7,173.7 L295.2,173.4 L295.7,173.1 L296.2,172.8 L296.7,172.6 L297.2,172.3 L297.7,172.0 L298.2,171.7 L298.7,171.4 L299.2,171.1 L299.7,170.9 L300.2,170.6 L300.7,170.3 L301.2,170.0 L301.7,169.8 L302.2,169.5 L302.7,169.2 L303.2,168.9 L303.7,168.7 L304.2,168.4 L304.7,168.1 L305.2,167.9 L305.7,167.6 L306.2,167.3 L306.7,167.1 L307.2,166.8 L307.7,166.5 L308.2,166.3 L308.7,166.0 L309.2,165.7 L309.7,165.5 L310.2,165.2 L310.7,164.9 L311.2,164.7 L311.7,164.4 L312.2,164.1 L312.7,163.9 L313.2,163.6 L313.7,163.4 L314.2,163.1 L314.7,162.9 L315.2,162.6 L315.7,162.3 L316.2,162.1 L316.7,161.8 L317.2,161.6 L317.7,161.3 L318.2,161.1 L318.7,160.8 L319.2,160.6 L319.7,160.3 L320.2,160.1 L320.7,159.8 L321.2,159.6 L321.7,159.3 L322.2,159.1 L322.7,158.8 L323.2,158.6 L323.7,158.4 L324.2,158.1 L324.7,157.9 L325.2,157.6 L325.7,157.4 L326.2,157.2 L326.7,156.9 L327.2,156.7 L327.7,156.4 L328.2,156.2 L328.7,156.0 L329.2,155.7 L329.7,155.5 L330.2,155.3 L330.7,155.0 L331.2,154.8 L331.7,154.6 L332.2,154.4 L332.7,154.1 L333.2,153.9 L333.7,153.7 L334.2,153.4 L334.7,153.2 L335.2,153.0 L335.7,152.8 L336.2,152.5 L336.7,152.3 L337.2,152.1 L337.7,151.9 L338.2,151.7 L338.7,151.5 L339.2,151.2 L339.7,151.0 L340.2,150.8 L340.7,150.6 L341.2,150.4 L341.7,150.2 L342.2,150.0 L342.7,149.7 L343.2,149.5 L343.7,149.3 L344.2,149.1 L344.7,148.9 L345.2,148.7 L345.7,148.5 L346.2,148.3 L346.7,148.1 L347.2,147.9 L347.7,147.7 L348.2,147.5 L348.7,147.3 L349.2,147.1 L349.7,146.9 L350.2,146.7 L350.7,146.5 L351.2,146.3 L351.7,146.1 L352.2,145.9 L352.7,145.7 L353.2,145.6 L353.7,145.4 L354.2,145.2 L354.7,145.0 L355.2,144.8 L355.7,144.6 L356.2,144.4 L356.7,144.3 L357.2,144.1 L357.7,143.9 L358.2,143.7 L358.7,143.5 L359.2,143.4 L359.7,143.2 L360.2,143.0 L360.7,142.8 L361.2,142.7 L361.7,142.5 L362.2,142.3 L362.7,142.2 L363.2,142.0 L363.7,141.8 L364.2,141.7 L364.7,141.5 L365.2,141.3 L365.7,141.2 L366.2,141.0 L366.7,140.8 L367.2,140.7 L367.7,140.5 L368.2,140.4 L368.7,140.2 L369.2,140.1 L369.7,139.9 L370.2,139.8 L370.7,139.6 L371.2,139.5 L371.7,139.3 L372.2,139.2 L372.7,139.0 L373.2,138.9 L373.7,138.7 L374.2,138.6 L374.7,138.4 L375.2,138.3 L375.7,138.2 L376.2,138.0 L376.7,137.9 L377.2,137.8 L377.7,137.6 L378.2,137.5 L378.7,137.4 L379.2,137.2 L379.7,137.1 L380.2,137.0 L380.7,136.8 L381.2,136.7 L381.7,136.6 L382.2,136.5 L382.7,136.3 L383.2,136.2 L383.7,136.1 L384.2,136.0 L384.7,135.9 L385.2,135.8 L385.7,135.6 L386.2,135.5 L386.7,135.4 L387.2,135.3 L387.7,135.2 L388.2,135.1 L388.7,135.0 L389.2,134.9 L389.7,134.8 L390.2,134.7 L390.7,134.6 L391.2,134.5 L391.7,134.4 L392.2,134.3 L392.7,134.2 L393.2,134.1 L393.7,134.0 L394.2,133.9 L394.7,133.8 L395.2,133.7 L395.7,133.6 L396.2,133.6 L396.7,133.5 L397.2,133.4 L397.7,133.3 L398.2,133.2 L398.7,133.1 L399.2,133.1 L399.7,133.0 L400.2,132.9 L400.7,132.8 L401.2,132.8 L401.7,132.7 L402.2,132.6 L402.7,132.6 L403.2,132.5 L403.7,132.4 L404.2,132.4 L404.7,132.3 L405.2,132.2 L405.7,132.2 L406.2,132.1 L406.7,132.1 L407.2,132.0 L407.7,131.9 L408.2,131.9 L408.7,131.8 L409.2,131.8 L409.7,131.7 L410.2,131.7 L410.7,131.6 L411.2,131.6 L411.7,131.5 L412.2,131.5 L412.7,131.4 L413.2,131.3 L413.7,131.3 L414.2,131.2 L414.7,131.2 L415.2,131.1 L415.7,131.1 L416.2,131.0 L416.7,131.0 L417.2,130.9 L417.7,130.9 L418.2,130.8 L418.7,130.8 L419.2,130.7 L419.7,130.6 L420.2,130.6 L420.7,130.5 L421.2,130.5 L421.7,130.4 L422.2,130.4 L422.7,130.3 L423.2,130.2 L423.7,130.2 L424.2,130.1 L424.7,130.0 L425.2,130.0 L425.7,129.9 L426.2,129.8 L426.7,129.8 L427.2,129.7 L427.7,129.6 L428.2,129.6 L428.7,129.5 L429.2,129.4 L429.7,129.3 L430.2,129.3 L430.7,129.2 L431.2,129.1 L431.7,129.0 L432.2,128.9 L432.7,128.8 L433.2,128.7 L433.7,128.7 L434.2,128.6 L434.7,128.5 L435.2,128.4 L435.7,128.3 L436.2,128.2 L436.7,128.1 L437.2,128.0 L437.7,127.8 L438.2,127.7 L438.7,127.6 L439.2,127.5 L439.7,127.4 L440.2,127.3 L440.7,127.1 L441.2,127.0 L441.7,126.9 L442.2,126.7 L442.7,126.6 L443.2,126.5 L443.7,126.3 L444.2,126.2 L444.7,126.0 L445.2,125.9 L445.7,125.7 L446.2,125.6 L446.7,125.4 L447.2,125.2 L447.7,125.1 L448.2,124.9 L448.7,124.7 L449.2,124.5 L449.7,124.4 L450.2,124.2 L450.7,124.0 L451.2,123.8 L451.7,123.7 L452.2,123.5 L452.7,123.3 L453.2,123.2 L453.7,123.0 L454.2,122.9 L454.7,122.7 L455.2,122.6 L455.7,122.5 L456.2,122.4 L456.7,122.3 L457.2,122.2 L457.7,122.2 L458.2,122.1 L458.7,122.1 L459.2,122.1 L459.7,122.1 L460.2,122.1 L460.7,122.2 L461.2,122.2 L461.7,122.3 L462.2,122.4 L462.7,122.5 L463.2,122.7 L463.7,122.9 L464.2,123.1 L464.7,123.3 L465.2,123.6 L465.7,123.9 L466.2,124.2 L466.7,124.5 L467.2,124.9 L467.7,125.3 L468.2,125.7 L468.7,126.2 L469.2,126.6 L469.7,127.1 L470.2,127.6 L470.7,128.1 L471.2,128.7 L471.7,129.2 L472.2,129.7 L472.7,130.3 L473.2,130.9 L473.7,131.4 L474.2,132.0 L474.7,132.6 L475.2,133.1 L475.7,133.7 L476.2,134.3 L476.7,134.9 L477.2,135.4 L477.7,136.0 L478.2,136.5 L478.7,137.1 L479.2,137.6 L479.7,138.1 L480.2,138.6 L480.7,139.1 L481.2,139.6 L481.7,140.1 L482.2,140.5 L482.7,141.0 L483.2,141.4 L483.7,141.9 L484.2,142.3 L484.7,142.7 L485.2,143.1 L485.7,143.5 L486.2,143.9 L486.7,144.3 L487.2,144.6 L487.7,145.0 L488.2,145.4 L488.7,145.7 L489.2,146.0 L489.7,146.4 L490.2,146.7 L490.7,147.0 L491.2,147.3 L491.7,147.6 L492.2,147.9 L492.7,148.2 L493.2,148.4 L493.7,148.7 L494.2,149.0 L494.7,149.2 L495.2,149.5 L495.7,149.7 L496.2,149.9 L496.7,150.1 L497.2,150.4 L497.7,150.6 L498.2,150.8 L498.7,151.0 L499.2,151.2 L499.7,151.4 L500.2,151.5 L500.7,151.7 L501.2,151.9 L501.7,152.0 L502.2,152.2 L502.7,152.4 L503.2,152.5 L503.7,152.6 L504.2,152.8 L504.7,152.9 L505.2,153.0 L505.7,153.2 L506.2,153.3 L506.7,153.4 L507.2,153.5 L507.7,153.6 L508.2,153.7 L508.7,153.8 L509.2,153.9 L509.7,154.0 L510.2,154.1 L510.7,154.2 L511.2,154.3 L511.7,154.3 L512.2,154.4 L512.7,154.5 L513.2,154.6 L513.7,154.6 L514.2,154.7 L514.7,154.8 L515.2,154.8 L515.7,154.9 L516.2,154.9 L516.7,155.0 L517.2,155.0 L517.7,155.1 L518.2,155.1 L518.7,155.2 L519.2,155.2 L519.7,155.3 L520.2,155.3 L520.7,155.4 L521.2,155.4 L521.7,155.4 L522.2,155.5 L522.7,155.5 L523.2,155.6 L523.7,155.6 L524.2,155.6 L524.7,155.7 L525.2,155.7 L525.7,155.8 L526.2,155.8 L526.7,155.8 L527.2,155.9 L527.7,155.9 L528.2,155.9 L528.7,156.0 L529.2,156.0 L529.7,156.0 L530.2,156.1 L530.7,156.1 L531.2,156.1 L531.7,156.2 L532.2,156.2 L532.7,156.2 L533.2,156.2 L533.7,156.3 L534.2,156.3 L534.7,156.3 L535.2,156.4 L535.7,156.4 L536.2,156.4 L536.7,156.4 L537.2,156.5 L537.7,156.5 L538.2,156.5 L538.7,156.5 L539.2,156.6 L539.7,156.6 L540.2,156.6 L540.7,156.6 L541.2,156.6 L541.7,156.7 L542.2,156.7 L542.7,156.7 L543.2,156.7 L543.7,156.7 L544.2,156.8 L544.7,156.8 L545.2,156.8 L545.7,156.8 L546.2,156.8 L546.7,156.9 L547.2,156.9 L547.7,156.9 L548.2,156.9 L548.7,156.9 L549.2,156.9 L549.7,156.9 L550.2,157.0 L550.7,157.0 L551.2,157.0 L551.7,157.0 L552.2,157.0 L552.7,157.0 L553.2,157.0 L553.7,157.1 L554.2,157.1 L554.7,157.1 L555.2,157.1 L555.7,157.1 L556.2,157.1 L556.7,157.1 L557.2,157.1 L557.7,157.1 L558.2,157.1 L558.7,157.1 L559.2,157.2 L559.7,157.2 L560.2,157.2 L560.7,157.2 L561.2,157.2 L561.7,157.2 L562.2,157.2 L562.7,157.2 L563.2,157.2 L563.7,157.2 L564.2,157.2 L564.7,157.2 L565.2,157.2 L565.7,157.2 L566.2,157.2 L566.7,157.2 L567.2,157.2 L567.7,157.2 L568.2,157.2 L568.7,157.2 L569.2,157.2 L569.7,157.2 L570.2,157.2 L570.7,157.2 L571.2,157.2 L571.7,157.2 L572.2,157.2 L572.7,157.2 L573.2,157.2 L573.7,157.2 L574.2,157.2 L574.7,157.2 L575.2,157.2 L575.7,157.2 L576.2,157.2 L576.7,157.2 L577.2,157.2 L577.7,157.2 L578.2,157.2 L578.7,157.2 L579.2,157.2 L579.7,157.2 L580.2,157.2 L580.7,157.1 L581.2,157.1 L581.7,157.1 L582.2,157.1 L582.7,157.1 L583.2,157.1 L583.7,157.1 L584.2,157.1 L584.7,157.1 L585.2,157.1 L585.7,157.1 L586.2,157.1 L586.7,157.1 L587.2,157.0 L587.7,157.0 L588.2,157.0 L588.7,157.0 L589.2,157.0 L589.7,157.0 L590.2,157.0 L590.7,157.0 L591.2,157.0 L591.7,156.9 L592.2,156.9 L592.7,156.9 L593.2,156.9 L593.7,156.9 L594.2,156.9 L594.7,156.9 L595.2,156.9 L595.7,156.8 L596.2,156.8 L596.7,156.8 L597.2,156.8 L597.7,156.8 L598.2,156.8 L598.7,156.8 L599.2,156.7 L599.7,156.7 L600.2,156.7 L600.7,156.7 L601.2,156.7 L601.7,156.7 L602.2,156.7 L602.7,156.6 L603.2,156.6 L603.7,156.6 L604.2,156.6 L604.7,156.6 L605.2,156.6 L605.7,156.5 L606.2,156.5 L606.7,156.5 L607.2,156.5 L607.7,156.5 L608.2,156.5 L608.7,156.4 L609.2,156.4 L609.7,156.4 L610.2,156.4 L610.7,156.4 L611.2,156.3 L611.7,156.3 L612.2,156.3 L612.7,156.3 L613.2,156.3 L613.7,156.3 L614.2,156.2 L614.7,156.2 L615.2,156.2 L615.7,156.2 L616.2,156.2 L616.7,156.1 L617.2,156.1 L617.7,156.1 L618.2,156.1 L618.7,156.1 L619.2,156.0 L619.7,156.0 L620.2,156.0 L620.7,156.0 L621.2,156.0 L621.7,155.9 L622.2,155.9 L622.7,155.9 L623.2,155.9 L623.7,155.9 L624.2,155.8 L624.7,155.8 L625.2,155.8 L625.7,155.8 L626.2,155.7 L626.7,155.7 L627.2,155.7 L627.7,155.7 L628.2,155.7 L628.7,155.6 L629.2,155.6 L629.7,155.6 L630.2,155.6 L630.7,155.6 L631.2,155.5 L631.7,155.5 L632.2,155.5 L632.7,155.5 L633.2,155.4 L633.7,155.4 L634.2,155.4 L634.7,155.4 L635.2,155.4 L635.7,155.3 L636.2,155.3 L636.7,155.3 L637.2,155.3 L637.7,155.2 L638.2,155.2 L638.7,155.2 L639.2,155.2 L639.7,155.2 L640.2,155.1 L640.7,155.1 L641.2,155.1 L641.7,155.1 L642.2,155.0 L642.7,155.0 L643.2,155.0 L643.7,155.0 L644.2,155.0 L644.7,154.9 L645.2,154.9 L645.7,154.9 L646.2,154.9 L646.7,154.8 L647.2,154.8 L647.7,154.8 L648.2,154.8 L648.7,154.8 L649.2,154.7 L649.7,154.7 L650.2,154.7 L650.7,154.7 L651.2,154.7 L651.7,154.6 L652.2,154.6 L652.7,154.6 L653.2,154.6 L653.7,154.5 L654.2,154.5 L654.7,154.5 L655.2,154.5 L655.7,154.5 L656.2,154.4 L656.7,154.4 L657.2,154.4 L657.7,154.4 L658.2,154.4 L658.7,154.3 L659.2,154.3 L659.7,154.3 L660.2,154.3 L660.7,154.3 L661.2,154.2 L661.7,154.2 L662.2,154.2 L662.7,154.2 L663.2,154.2 L663.7,154.1 L664.2,154.1 L664.7,154.1 L665.2,154.1 L665.7,154.1 L666.2,154.0 L666.7,154.0 L667.2,154.0 L667.7,154.0 L668.2,154.0 L668.7,154.0 L669.2,153.9 L669.7,153.9 L670.2,153.9 L670.7,153.9 L671.2,153.9 L671.7,153.8 L672.2,153.8 L672.7,153.8 L673.2,153.8 L673.7,153.8 L674.2,153.8 L674.7,153.7 L675.2,153.7 L675.7,153.7 L676.2,153.7 L676.7,153.7 L677.2,153.7 L677.7,153.6 L678.2,153.6 L678.7,153.6 L679.2,153.6 L679.7,153.6 L680.2,153.6 L680.7,153.6 L681.2,153.5 L681.7,153.5 L682.2,153.5 L682.7,153.5 L683.2,153.5 L683.7,153.5 L684.2,153.5 L684.7,153.4 L685.2,153.4 L685.7,153.4 L686.2,153.4 L686.7,153.4 L687.2,153.4 L687.7,153.4 L688.2,153.4 L688.7,153.4 L689.2,153.3 L689.7,153.3 L690.2,153.3 L690.7,153.3 L691.2,153.3 L691.7,153.3 L692.2,153.3 L692.7,153.3 L693.2,153.3 L693.7,153.3 L694.2,153.2 L694.7,153.2 L695.2,153.2 L695.7,153.2 L696.0,153.2" stroke="#0000ff" stroke-width="3" fill="none" stroke-linejoin="round" stroke-linecap="round"/>
<path d="M207.7,270.2 L208.2,269.5 L208.7,268.8 L209.2,268.2 L209.7,267.6 L210.2,266.9 L210.7,266.3 L211.2,265.6 L211.7,265.0 L212.2,264.4 L212.7,263.7 L213.2,263.1 L213.7,262.5 L214.2,261.8 L214.7,261.2 L215.2,260.6 L215.7,260.0 L216.2,259.4 L216.7,258.8 L217.2,258.2 L217.7,257.6 L218.2,257.0 L218.7,256.4 L219.2,255.8 L219.7,255.2 L220.2,254.6 L220.7,254.0 L221.2,253.4 L221.7,252.8 L222.2,252.3 L222.7,251.7 L223.2,251.1 L223.7,250.5 L224.2,250.0 L224.7,249.4 L225.2,248.8 L225.7,248.3 L226.2,247.7 L226.7,247.2 L227.2,246.6 L227.7,246.1 L228.2,245.5 L228.7,245.0 L229.2,244.4 L229.7,243.9 L230.2,243.4 L230.7,242.8 L231.2,242.3 L231.7,241.8 L232.2,241.2 L232.7,240.7 L233.2,240.2 L233.7,239.7 L234.2,239.2 L234.7,238.7 L235.2,238.2 L235.7,237.6 L236.2,237.1 L236.7,236.6 L237.2,236.1 L237.7,235.6 L238.2,235.2 L238.7,234.7 L239.2,234.2 L239.7,233.7 L240.2,233.2 L240.7,232.7 L241.2,232.3 L241.7,231.8 L242.2,231.3 L242.7,230.8 L243.2,230.4 L243.7,229.9 L244.2,229.4 L244.7,229.0 L245.2,228.5 L245.7,228.1 L246.2,227.6 L246.7,227.2 L247.2,226.7 L247.7,226.3 L248.2,225.9 L248.7,225.4 L249.2,225.0 L249.7,224.5 L250.2,224.1 L250.7,223.7 L251.2,223.3 L251.7,222.8 L252.2,222.4 L252.7,222.0 L253.2,221.6 L253.7,221.2 L254.2,220.8 L254.7,220.4 L255.2,220.0 L255.7,219.6 L256.2,219.2 L256.7,218.8 L257.2,218.4 L257.7,218.0 L258.2,217.6 L258.7,217.2 L259.2,216.8 L259.7,216.5 L260.2,216.1 L260.7,215.7 L261.2,215.3 L261.7,215.0 L262.2,214.6 L262.7,214.2 L263.2,213.9 L263.7,213.5 L264.2,213.1 L264.7,212.8 L265.2,212.4 L265.7,212.1 L266.2,211.7 L266.7,211.4 L267.2,211.1 L267.7,210.7 L268.2,210.4 L268.7,210.1 L269.2,209.7 L269.7,209.4 L270.2,209.1 L270.7,208.7 L271.2,208.4 L271.7,208.1 L272.2,207.8 L272.7,207.5 L273.2,207.2 L273.7,206.9 L274.2,206.5 L274.7,206.2 L275.2,205.9 L275.7,205.6 L276.2,205.4 L276.7,205.1 L277.2,204.8 L277.7,204.5 L278.2,204.2 L278.7,203.9 L279.2,203.6 L279.7,203.4 L280.2,203.1 L280.7,202.8 L281.2,202.5 L281.7,202.3 L282.2,202.0 L282.7,201.7 L283.2,201.5 L283.7,201.2 L284.2,201.0 L284.7,200.7 L285.2,200.5 L285.7,200.2 L286.2,200.0 L286.7,199.7 L287.2,199.5 L287.7,199.2 L288.2,199.0 L288.7,198.8 L289.2,198.5 L289.7,198.3 L290.2,198.1 L290.7,197.9 L291.2,197.6 L291.7,197.4 L292.2,197.2 L292.7,197.0 L293.2,196.8 L293.7,196.6 L294.2,196.4 L294.7,196.2 L295.2,196.0 L295.7,195.8 L296.2,195.6 L296.7,195.4 L297.2,195.2 L297.7,195.0 L298.2,194.8 L298.7,194.6 L299.2,194.5 L299.7,194.3 L300.2,194.1 L300.7,193.9 L301.2,193.8 L301.7,193.6 L302.2,193.4 L302.7,193.3 L303.2,193.1 L303.7,193.0 L304.2,192.8 L304.7,192.7 L305.2,192.5 L305.7,192.4 L306.2,192.2 L306.7,192.1 L307.2,192.0 L307.7,191.8 L308.2,191.7 L308.7,191.6 L309.2,191.4 L309.7,191.3 L310.2,191.2 L310.7,191.1 L311.2,191.0 L311.7,190.9 L312.2,190.7 L312.7,190.6 L313.2,190.5 L313.7,190.4 L314.2,190.3 L314.7,190.2 L315.2,190.2 L315.7,190.1 L316.2,190.0 L316.7,189.9 L317.2,189.8 L317.7,189.8 L318.2,189.7 L318.7,189.6 L319.2,189.5 L319.7,189.5 L320.2,189.4 L320.7,189.4 L321.2,189.3 L321.7,189.3 L322.2,189.2 L322.7,189.2 L323.2,189.1 L323.7,189.1 L324.2,189.0 L324.7,189.0 L325.2,189.0 L325.7,189.0 L326.2,188.9 L326.7,188.9 L327.2,188.9 L327.7,188.9 L328.2,188.9 L328.7,188.9 L329.2,188.9 L329.7,188.9 L330.2,188.9 L330.7,188.9 L331.2,188.9 L331.7,188.9 L332.2,188.9 L332.7,188.9 L333.2,188.9 L333.7,189.0 L334.2,189.0 L334.7,189.0 L335.2,189.1 L335.7,189.1 L336.2,189.1 L336.7,189.2 L337.2,189.2 L337.7,189.3 L338.2,189.3 L338.7,189.4 L339.2,189.5 L339.7,189.5 L340.2,189.6 L340.7,189.7 L341.2,189.7 L341.7,189.8 L342.2,189.9 L342.7,190.0 L343.2,190.1 L343.7,190.2 L344.2,190.2 L344.7,190.3 L345.2,190.4 L345.7,190.5 L346.2,190.6 L346.7,190.7 L347.2,190.8 L347.7,191.0 L348.2,191.1 L348.7,191.2 L349.2,191.3 L349.7,191.4 L350.2,191.5 L350.7,191.6 L351.2,191.8 L351.7,191.9 L352.2,192.0 L352.7,192.1 L353.2,192.2 L353.7,192.4 L354.2,192.5 L354.7,192.6 L355.2,192.7 L355.7,192.8 L356.2,193.0 L356.7,193.1 L357.2,193.2 L357.7,193.3 L358.2,193.5 L358.7,193.6 L359.2,193.7 L359.7,193.8 L360.2,193.9 L360.7,194.1 L361.2,194.2 L361.7,194.3 L362.2,194.4 L362.7,194.5 L363.2,194.6 L363.7,194.7 L364.2,194.9 L364.7,195.0 L365.2,195.1 L365.7,195.2 L366.2,195.3 L366.7,195.4 L367.2,195.5 L367.7,195.6 L368.2,195.7 L368.7,195.7 L369.2,195.8 L369.7,195.9 L370.2,196.0 L370.7,196.1 L371.2,196.1 L371.7,196.2 L372.2,196.3 L372.7,196.4 L373.2,196.4 L373.7,196.5 L374.2,196.5 L374.7,196.6 L375.2,196.6 L375.7,196.7 L376.2,196.7 L376.7,196.7 L377.2,196.8 L377.7,196.8 L378.2,196.8 L378.7,196.9 L379.2,196.9 L379.7,196.9 L380.2,196.9 L380.7,196.9 L381.2,196.9 L381.7,196.9 L382.2,197.0 L382.7,197.0 L383.2,197.0 L383.7,196.9 L384.2,196.9 L384.7,196.9 L385.2,196.9 L385.7,196.9 L386.2,196.9 L386.7,196.9 L387.2,196.8 L387.7,196.8 L388.2,196.8 L388.7,196.7 L389.2,196.7 L389.7,196.7 L390.2,196.6 L390.7,196.6 L391.2,196.5 L391.7,196.5 L392.2,196.4 L392.7,196.4 L393.2,196.3 L393.7,196.3 L394.2,196.2 L394.7,196.1 L395.2,196.1 L395.7,196.0 L396.2,195.9 L396.7,195.9 L397.2,195.8 L397.7,195.7 L398.2,195.6 L398.7,195.5 L399.2,195.5 L399.7,195.4 L400.2,195.3 L400.7,195.2 L401.2,195.1 L401.7,195.0 L402.2,194.9 L402.7,194.8 L403.2,194.7 L403.7,194.6 L404.2,194.5 L404.7,194.4 L405.2,194.3 L405.7,194.2 L406.2,194.1 L406.7,194.0 L407.2,193.9 L407.7,193.8 L408.2,193.7 L408.7,193.6 L409.2,193.5 L409.7,193.4 L410.2,193.2 L410.7,193.1 L411.2,193.0 L411.7,192.9 L412.2,192.8 L412.7,192.7 L413.2,192.6 L413.7,192.4 L414.2,192.3 L414.7,192.2 L415.2,192.1 L415.7,192.0 L416.2,191.9 L416.7,191.7 L417.2,191.6 L417.7,191.5 L418.2,191.4 L418.7,191.3 L419.2,191.2 L419.7,191.0 L420.2,190.9 L420.7,190.8 L421.2,190.7 L421.7,190.6 L422.2,190.5 L422.7,190.3 L423.2,190.2 L423.7,190.1 L424.2,190.0 L424.7,189.9 L425.2,189.8 L425.7,189.7 L426.2,189.6 L426.7,189.5 L427.2,189.4 L427.7,189.3 L428.2,189.2 L428.7,189.1 L429.2,189.0 L429.7,188.9 L430.2,188.8 L430.7,188.7 L431.2,188.6 L431.7,188.5 L432.2,188.4 L432.7,188.3 L433.2,188.2 L433.7,188.1 L434.2,188.0 L434.7,187.9 L435.2,187.8 L435.7,187.7 L436.2,187.6 L436.7,187.5 L437.2,187.4 L437.7,187.3 L438.2,187.2 L438.7,187.2 L439.2,187.1 L439.7,187.0 L440.2,186.9 L440.7,186.8 L441.2,186.7 L441.7,186.6 L442.2,186.5 L442.7,186.5 L443.2,186.4 L443.7,186.3 L444.2,186.2 L444.7,186.1 L445.2,186.0 L445.7,185.9 L446.2,185.9 L446.7,185.8 L447.2,185.7 L447.7,185.6 L448.2,185.5 L448.7,185.4 L449.2,185.3 L449.7,185.3 L450.2,185.2 L450.7,185.1 L451.2,185.0 L451.7,184.9 L452.2,184.8 L452.7,184.7 L453.2,184.7 L453.7,184.6 L454.2,184.5 L454.7,184.4 L455.2,184.3 L455.7,184.2 L456.2,184.1 L456.7,184.1 L457.2,184.0 L457.7,183.9 L458.2,183.8 L458.7,183.7 L459.2,183.6 L459.7,183.5 L460.2,183.4 L460.7,183.3 L461.2,183.3 L461.7,183.2 L462.2,183.1 L462.7,183.0 L463.2,182.9 L463.7,182.8 L464.2,182.7 L464.7,182.6 L465.2,182.5 L465.7,182.4 L466.2,182.3 L466.7,182.2 L467.2,182.1 L467.7,182.0 L468.2,181.9 L468.7,181.8 L469.2,181.7 L469.7,181.6 L470.2,181.5 L470.7,181.4 L471.2,181.3 L471.7,181.2 L472.2,181.1 L472.7,181.0 L473.2,180.9 L473.7,180.8 L474.2,180.7 L474.7,180.5 L475.2,180.4 L475.7,180.3 L476.2,180.2 L476.7,180.1 L477.2,180.0 L477.7,179.9 L478.2,179.8 L478.7,179.6 L479.2,179.5 L479.7,179.4 L480.2,179.3 L480.7,179.2 L481.2,179.1 L481.7,178.9 L482.2,178.8 L482.7,178.7 L483.2,178.6 L483.7,178.4 L484.2,178.3 L484.7,178.2 L485.2,178.1 L485.7,177.9 L486.2,177.8 L486.7,177.7 L487.2,177.5 L487.7,177.4 L488.2,177.3 L488.7,177.1 L489.2,177.0 L489.7,176.9 L490.2,176.7 L490.7,176.6 L491.2,176.5 L491.7,176.3 L492.2,176.2 L492.7,176.0 L493.2,175.9 L493.7,175.8 L494.2,175.6 L494.7,175.5 L495.2,175.3 L495.7,175.2 L496.2,175.0 L496.7,174.9 L497.2,174.7 L497.7,174.6 L498.2,174.4 L498.7,174.3 L499.2,174.1 L499.7,174.0 L500.2,173.8 L500.7,173.6 L501.2,173.5 L501.7,173.3 L502.2,173.2 L502.7,173.0 L503.2,172.9 L503.7,172.7 L504.2,172.6 L504.7,172.4 L505.2,172.3 L505.7,172.1 L506.2,172.0 L506.7,171.8 L507.2,171.7 L507.7,171.5 L508.2,171.4 L508.7,171.2 L509.2,171.1 L509.7,171.0 L510.2,170.8 L510.7,170.7 L511.2,170.5 L511.7,170.4 L512.2,170.3 L512.7,170.1 L513.2,170.0 L513.7,169.9 L514.2,169.7 L514.7,169.6 L515.2,169.5 L515.7,169.3 L516.2,169.2 L516.7,169.1 L517.2,169.0 L517.7,168.9 L518.2,168.7 L518.7,168.6 L519.2,168.5 L519.7,168.4 L520.2,168.3 L520.7,168.1 L521.2,168.0 L521.7,167.9 L522.2,167.8 L522.7,167.7 L523.2,167.6 L523.7,167.5 L524.2,167.4 L524.7,167.3 L525.2,167.2 L525.7,167.1 L526.2,167.0 L526.7,166.9 L527.2,166.8 L527.7,166.7 L528.2,166.6 L528.7,166.5 L529.2,166.4 L529.7,166.3 L530.2,166.2 L530.7,166.1 L531.2,166.0 L531.7,165.9 L532.2,165.8 L532.7,165.7 L533.2,165.6 L533.7,165.5 L534.2,165.5 L534.7,165.4 L535.2,165.3 L535.7,165.2 L536.2,165.1 L536.7,165.0 L537.2,165.0 L537.7,164.9 L538.2,164.8 L538.7,164.7 L539.2,164.6 L539.7,164.6 L540.2,164.5 L540.7,164.4 L541.2,164.3 L541.7,164.3 L542.2,164.2 L542.7,164.1 L543.2,164.1 L543.7,164.0 L544.2,163.9 L544.7,163.9 L545.2,163.8 L545.7,163.7 L546.2,163.7 L546.7,163.6 L547.2,163.5 L547.7,163.5 L548.2,163.4 L548.7,163.4 L549.2,163.3 L549.7,163.2 L550.2,163.2 L550.7,163.1 L551.2,163.1 L551.7,163.0 L552.2,163.0 L552.7,162.9 L553.2,162.9 L553.7,162.8 L554.2,162.7 L554.7,162.7 L555.2,162.6 L555.7,162.6 L556.2,162.5 L556.7,162.5 L557.2,162.5 L557.7,162.4 L558.2,162.4 L558.7,162.3 L559.2,162.3 L559.7,162.2 L560.2,162.2 L560.7,162.1 L561.2,162.1 L561.7,162.1 L562.2,162.0 L562.7,162.0 L563.2,161.9 L563.7,161.9 L564.2,161.9 L564.7,161.8 L565.2,161.8 L565.7,161.7 L566.2,161.7 L566.7,161.7 L567.2,161.6 L567.7,161.6 L568.2,161.6 L568.7,161.5 L569.2,161.5 L569.7,161.5 L570.2,161.4 L570.7,161.4 L571.2,161.4 L571.7,161.4 L572.2,161.3 L572.7,161.3 L573.2,161.3 L573.7,161.2 L574.2,161.2 L574.7,161.2 L575.2,161.2 L575.7,161.1 L576.2,161.1 L576.7,161.1 L577.2,161.1 L577.7,161.0 L578.2,161.0 L578.7,161.0 L579.2,161.0 L579.7,160.9 L580.2,160.9 L580.7,160.9 L581.2,160.9 L581.7,160.8 L582.2,160.8 L582.7,160.8 L583.2,160.8 L583.7,160.8 L584.2,160.8 L584.7,160.7 L585.2,160.7 L585.7,160.7 L586.2,160.7 L586.7,160.7 L587.2,160.6 L587.7,160.6 L588.2,160.6 L588.7,160.6 L589.2,160.6 L589.7,160.6 L590.2,160.5 L590.7,160.5 L591.2,160.5 L591.7,160.5 L592.2,160.5 L592.7,160.5 L593.2,160.5 L593.7,160.4 L594.2,160.4 L594.7,160.4 L595.2,160.4 L595.7,160.4 L596.2,160.4 L596.7,160.4 L597.2,160.4 L597.7,160.3 L598.2,160.3 L598.7,160.3 L599.2,160.3 L599.7,160.3 L600.2,160.3 L600.7,160.3 L601.2,160.3 L601.7,160.3 L602.2,160.2 L602.7,160.2 L603.2,160.2 L603.7,160.2 L604.2,160.2 L604.7,160.2 L605.2,160.2 L605.7,160.2 L606.2,160.2 L606.7,160.2 L607.2,160.1 L607.7,160.1 L608.2,160.1 L608.7,160.1 L609.2,160.1 L609.7,160.1 L610.2,160.1 L610.7,160.1 L611.2,160.1 L611.7,160.1 L612.2,160.1 L612.7,160.0 L613.2,160.0 L613.7,160.0 L614.2,160.0 L614.7,160.0 L615.2,160.0 L615.7,160.0 L616.2,160.0 L616.7,160.0 L617.2,160.0 L617.7,159.9 L618.2,159.9 L618.7,159.9 L619.2,159.9 L619.7,159.9 L620.2,159.9 L620.7,159.9 L621.2,159.9 L621.7,159.9 L622.2,159.9 L622.7,159.8 L623.2,159.8 L623.7,159.8 L624.2,159.8 L624.7,159.8 L625.2,159.8 L625.7,159.8 L626.2,159.8 L626.7,159.8 L627.2,159.7 L627.7,159.7 L628.2,159.7 L628.7,159.7 L629.2,159.7 L629.7,159.7 L630.2,159.7 L630.7,159.7 L631.2,159.6 L631.7,159.6 L632.2,159.6 L632.7,159.6 L633.2,159.6 L633.7,159.6 L634.2,159.5 L634.7,159.5 L635.2,159.5 L635.7,159.5 L636.2,159.5 L636.7,159.5 L637.2,159.4 L637.7,159.4 L638.2,159.4 L638.7,159.4 L639.2,159.4 L639.7,159.4 L640.2,159.3 L640.7,159.3 L641.2,159.3 L641.7,159.3 L642.2,159.3 L642.7,159.2 L643.2,159.2 L643.7,159.2 L644.2,159.2 L644.7,159.2 L645.2,159.1 L645.7,159.1 L646.2,159.1 L646.7,159.1 L647.2,159.0 L647.7,159.0 L648.2,159.0 L648.7,159.0 L649.2,158.9 L649.7,158.9 L650.2,158.9 L650.7,158.8 L651.2,158.8 L651.7,158.8 L652.2,158.8 L652.7,158.7 L653.2,158.7 L653.7,158.7 L654.2,158.6 L654.7,158.6 L655.2,158.6 L655.7,158.5 L656.2,158.5 L656.7,158.5 L657.2,158.4 L657.7,158.4 L658.2,158.4 L658.7,158.3 L659.2,158.3 L659.7,158.3 L660.2,158.2 L660.7,158.2 L661.2,158.1 L661.7,158.1 L662.2,158.1 L662.7,158.0 L663.2,158.0 L663.7,157.9 L664.2,157.9 L664.7,157.8 L665.2,157.8 L665.7,157.7 L666.2,157.7 L666.7,157.7 L667.2,157.6 L667.7,157.6 L668.2,157.5 L668.7,157.5 L669.2,157.4 L669.7,157.4 L670.2,157.3 L670.7,157.3 L671.2,157.2 L671.7,157.1 L672.2,157.1 L672.7,157.0 L673.2,157.0 L673.7,156.9 L674.2,156.9 L674.7,156.8 L675.2,156.7 L675.7,156.7 L676.2,156.6 L676.7,156.6 L677.2,156.5 L677.7,156.4 L678.2,156.4 L678.7,156.3 L679.2,156.2 L679.7,156.2 L680.2,156.1 L680.7,156.0 L681.2,156.0 L681.7,155.9 L682.2,155.8 L682.7,155.8 L683.2,155.7 L683.7,155.6 L684.2,155.5 L684.7,155.5 L685.2,155.4 L685.7,155.3 L686.2,155.2 L686.7,155.1 L687.2,155.1 L687.7,155.0 L688.2,154.9 L688.7,154.8 L689.2,154.7 L689.7,154.7 L690.2,154.6 L690.7,154.5 L691.2,154.4 L691.7,154.3 L692.2,154.2 L692.7,154.1 L693.2,154.0 L693.7,153.9 L694.2,153.8 L694.7,153.7 L695.2,153.6 L695.7,153.6 L696.0,153.5" stroke="#0000ff" stroke-width="3" fill="none" stroke-linejoin="round" stroke-linecap="round"/>
<path d="M207.7,313.5 L208.2,312.7 L208.7,311.9 L209.2,311.0 L209.7,310.2 L210.2,309.3 L210.7,308.4 L211.2,307.5 L211.7,306.6 L212.2,305.7 L212.7,304.8 L213.2,303.8 L213.7,302.9 L214.2,301.9 L214.7,300.9 L215.2,299.9 L215.7,298.9 L216.2,297.9 L216.7,296.9 L217.2,295.9 L217.7,294.9 L218.2,293.8 L218.7,292.8 L219.2,291.8 L219.7,290.7 L220.2,289.7 L220.7,288.6 L221.2,287.5 L221.7,286.5 L222.2,285.4 L222.7,284.4 L223.2,283.3 L223.7,282.2 L224.2,281.1 L224.7,280.1 L225.2,279.0 L225.7,277.9 L226.2,276.9 L226.7,275.8 L227.2,274.7 L227.7,273.7 L228.2,272.6 L228.7,271.6 L229.2,270.5 L229.7,269.5 L230.2,268.4 L230.7,267.4 L231.2,266.4 L231.7,265.4 L232.2,264.4 L232.7,263.4 L233.2,262.4 L233.7,261.4 L234.2,260.4 L234.7,259.4 L235.2,258.5 L235.7,257.5 L236.2,256.6 L236.7,255.6 L237.2,254.7 L237.7,253.8 L238.2,252.9 L238.7,251.9 L239.2,251.0 L239.7,250.1 L240.2,249.3 L240.7,248.4 L241.2,247.5 L241.7,246.6 L242.2,245.8 L242.7,244.9 L243.2,244.1 L243.7,243.2 L244.2,242.4 L244.7,241.6 L245.2,240.7 L245.7,239.9 L246.2,239.1 L246.7,238.3 L247.2,237.5 L247.7,236.7 L248.2,235.9 L248.7,235.1 L249.2,234.4 L249.7,233.6 L250.2,232.8 L250.7,232.1 L251.2,231.3 L251.7,230.6 L252.2,229.8 L252.7,229.1 L253.2,228.3 L253.7,227.6 L254.2,226.9 L254.7,226.2 L255.2,225.5 L255.7,224.8 L256.2,224.0 L256.7,223.3 L257.2,222.7 L257.7,222.0 L258.2,221.3 L258.7,220.6 L259.2,219.9 L259.7,219.2 L260.2,218.6 L260.7,217.9 L261.2,217.2 L261.7,216.6 L262.2,215.9 L262.7,215.3 L263.2,214.6 L263.7,214.0 L264.2,213.3 L264.7,212.7 L265.2,212.1 L265.7,211.4 L266.2,210.8 L266.7,210.2 L267.2,209.6 L267.7,208.9 L268.2,208.3 L268.7,207.7 L269.2,207.1 L269.7,206.5 L270.2,205.9 L270.7,205.3 L271.2,204.7 L271.7,204.1 L272.2,203.5 L272.7,202.9 L273.2,202.4 L273.7,201.8 L274.2,201.2 L274.7,200.6 L275.2,200.1 L275.7,199.5 L276.2,198.9 L276.7,198.4 L277.2,197.8 L277.7,197.2 L278.2,196.7 L278.7,196.1 L279.2,195.6 L279.7,195.0 L280.2,194.5 L280.7,193.9 L281.2,193.4 L281.7,192.8 L282.2,192.3 L282.7,191.7 L283.2,191.2 L283.7,190.7 L284.2,190.1 L284.7,189.6 L285.2,189.1 L285.7,188.5 L286.2,188.0 L286.7,187.5 L287.2,187.0 L287.7,186.4 L288.2,185.9 L288.7,185.4 L289.2,184.9 L289.7,184.4 L290.2,183.9 L290.7,183.3 L291.2,182.8 L291.7,182.3 L292.2,181.8 L292.7,181.3 L293.2,180.8 L293.7,180.3 L294.2,179.8 L294.7,179.3 L295.2,178.8 L295.7,178.3 L296.2,177.7 L296.7,177.2 L297.2,176.7 L297.7,176.2 L298.2,175.7 L298.7,175.2 L299.2,174.7 L299.7,174.2 L300.2,173.7 L300.7,173.2 L301.2,172.7 L301.7,172.2 L302.2,171.7 L302.7,171.2 L303.2,170.7 L303.7,170.2 L304.2,169.7 L304.7,169.2 L305.2,168.7 L305.7,168.2 L306.2,167.7 L306.7,167.2 L307.2,166.7 L307.7,166.2 L308.2,165.7 L308.7,165.2 L309.2,164.7 L309.7,164.2 L310.2,163.7 L310.7,163.2 L311.2,162.7 L311.7,162.2 L312.2,161.7 L312.7,161.2 L313.2,160.7 L313.7,160.2 L314.2,159.7 L314.7,159.2 L315.2,158.7 L315.7,158.2 L316.2,157.7 L316.7,157.2 L317.2,156.7 L317.7,156.2 L318.2,155.7 L318.7,155.2 L319.2,154.7 L319.7,154.2 L320.2,153.8 L320.7,153.3 L321.2,152.8 L321.7,152.3 L322.2,151.8 L322.7,151.3 L323.2,150.8 L323.7,150.3 L324.2,149.8 L324.7,149.4 L325.2,148.9 L325.7,148.4 L326.2,147.9 L326.7,147.5 L327.2,147.0 L327.7,146.5 L328.2,146.0 L328.7,145.6 L329.2,145.1 L329.7,144.6 L330.2,144.2 L330.7,143.7 L331.2,143.2 L331.7,142.8 L332.2,142.3 L332.7,141.9 L333.2,141.4 L333.7,141.0 L334.2,140.5 L334.7,140.1 L335.2,139.6 L335.7,139.2 L336.2,138.7 L336.7,138.3 L337.2,137.9 L337.7,137.4 L338.2,137.0 L338.7,136.6 L339.2,136.2 L339.7,135.7 L340.2,135.3 L340.7,134.9 L341.2,134.5 L341.7,134.1 L342.2,133.7 L342.7,133.3 L343.2,132.9 L343.7,132.5 L344.2,132.1 L344.7,131.7 L345.2,131.3 L345.7,130.9 L346.2,130.6 L346.7,130.2 L347.2,129.8 L347.7,129.4 L348.2,129.1 L348.7,128.7 L349.2,128.3 L349.7,128.0 L350.2,127.6 L350.7,127.3 L351.2,126.9 L351.7,126.6 L352.2,126.3 L352.7,125.9 L353.2,125.6 L353.7,125.3 L354.2,125.0 L354.7,124.6 L355.2,124.3 L355.7,124.0 L356.2,123.7 L356.7,123.4 L357.2,123.1 L357.7,122.8 L358.2,122.6 L358.7,122.3 L359.2,122.0 L359.7,121.7 L360.2,121.5 L360.7,121.2 L361.2,120.9 L361.7,120.7 L362.2,120.4 L362.7,120.2 L363.2,120.0 L363.7,119.7 L364.2,119.5 L364.7,119.3 L365.2,119.1 L365.7,118.8 L366.2,118.6 L366.7,118.4 L367.2,118.2 L367.7,118.0 L368.2,117.8 L368.7,117.6 L369.2,117.5 L369.7,117.3 L370.2,117.1 L370.7,116.9 L371.2,116.8 L371.7,116.6 L372.2,116.5 L372.7,116.3 L373.2,116.2 L373.7,116.0 L374.2,115.9 L374.7,115.7 L375.2,115.6 L375.7,115.5 L376.2,115.3 L376.7,115.2 L377.2,115.1 L377.7,115.0 L378.2,114.9 L378.7,114.8 L379.2,114.7 L379.7,114.6 L380.2,114.5 L380.7,114.4 L381.2,114.3 L381.7,114.3 L382.2,114.2 L382.7,114.1 L383.2,114.0 L383.7,114.0 L384.2,113.9 L384.7,113.9 L385.2,113.8 L385.7,113.8 L386.2,113.7 L386.7,113.7 L387.2,113.6 L387.7,113.6 L388.2,113.6 L388.7,113.5 L389.2,113.5 L389.7,113.5 L390.2,113.5 L390.7,113.5 L391.2,113.4 L391.7,113.4 L392.2,113.4 L392.7,113.4 L393.2,113.4 L393.7,113.4 L394.2,113.5 L394.7,113.5 L395.2,113.5 L395.7,113.5 L396.2,113.5 L396.7,113.6 L397.2,113.6 L397.7,113.6 L398.2,113.7 L398.7,113.7 L399.2,113.7 L399.7,113.8 L400.2,113.8 L400.7,113.9 L401.2,113.9 L401.7,114.0 L402.2,114.0 L402.7,114.1 L403.2,114.2 L403.7,114.2 L404.2,114.3 L404.7,114.4 L405.2,114.5 L405.7,114.5 L406.2,114.6 L406.7,114.7 L407.2,114.8 L407.7,114.9 L408.2,115.0 L408.7,115.1 L409.2,115.2 L409.7,115.3 L410.2,115.4 L410.7,115.5 L411.2,115.6 L411.7,115.7 L412.2,115.8 L412.7,115.9 L413.2,116.0 L413.7,116.1 L414.2,116.2 L414.7,116.4 L415.2,116.5 L415.7,116.6 L416.2,116.7 L416.7,116.8 L417.2,116.9 L417.7,117.0 L418.2,117.1 L418.7,117.2 L419.2,117.3 L419.7,117.4 L420.2,117.4 L420.7,117.5 L421.2,117.6 L421.7,117.7 L422.2,117.7 L422.7,117.8 L423.2,117.8 L423.7,117.9 L424.2,117.9 L424.7,117.9 L425.2,118.0 L425.7,118.0 L426.2,118.0 L426.7,118.0 L427.2,118.0 L427.7,117.9 L428.2,117.9 L428.7,117.9 L429.2,117.8 L429.7,117.7 L430.2,117.7 L430.7,117.6 L431.2,117.5 L431.7,117.4 L432.2,117.2 L432.7,117.1 L433.2,117.0 L433.7,116.8 L434.2,116.6 L434.7,116.4 L435.2,116.2 L435.7,116.0 L436.2,115.8 L436.7,115.5 L437.2,115.3 L437.7,115.0 L438.2,114.7 L438.7,114.4 L439.2,114.1 L439.7,113.8 L440.2,113.5 L440.7,113.2 L441.2,112.8 L441.7,112.5 L442.2,112.1 L442.7,111.7 L443.2,111.4 L443.7,111.0 L444.2,110.6 L444.7,110.2 L445.2,109.8 L445.7,109.4 L446.2,108.9 L446.7,108.5 L447.2,108.1 L447.7,107.6 L448.2,107.2 L448.7,106.7 L449.2,106.3 L449.7,105.8 L450.2,105.3 L450.7,104.9 L451.2,104.4 L451.7,103.9 L452.2,103.4 L452.7,102.9 L453.2,102.5 L453.7,102.0 L454.2,101.5 L454.7,101.0 L455.2,100.5 L455.7,100.0 L456.2,99.5 L456.7,99.0 L457.2,98.5 L457.7,98.0 L458.2,97.5 L458.7,97.0 L459.2,96.5 L459.7,96.1 L460.2,95.6 L460.7,95.1 L461.2,94.6 L461.7,94.1 L462.2,93.6 L462.7,93.2 L463.2,92.7 L463.7,92.2 L464.2,91.8 L464.7,91.3 L465.2,90.9 L465.7,90.4 L466.2,90.0 L466.7,89.5 L467.2,89.1 L467.7,88.7 L468.2,88.3 L468.7,87.9 L469.2,87.5 L469.7,87.1 L470.2,86.8 L470.7,86.4 L471.2,86.1 L471.7,85.7 L472.2,85.4 L472.7,85.1 L473.2,84.8 L473.7,84.5 L474.2,84.3 L474.7,84.0 L475.2,83.8 L475.7,83.6 L476.2,83.4 L476.7,83.2 L477.2,83.0 L477.7,82.9 L478.2,82.8 L478.7,82.7 L479.2,82.6 L479.7,82.5 L480.2,82.5 L480.7,82.5 L481.2,82.5 L481.7,82.6 L482.2,82.6 L482.7,82.7 L483.2,82.9 L483.7,83.0 L484.2,83.2 L484.7,83.4 L485.2,83.7 L485.7,83.9 L486.2,84.2 L486.7,84.6 L487.2,84.9 L487.7,85.3 L488.2,85.7 L488.7,86.2 L489.2,86.6 L489.7,87.1 L490.2,87.7 L490.7,88.2 L491.2,88.8 L491.7,89.4 L492.2,90.0 L492.7,90.7 L493.2,91.4 L493.7,92.1 L494.2,92.8 L494.7,93.5 L495.2,94.3 L495.7,95.1 L496.2,96.0 L496.7,96.8 L497.2,97.7 L497.7,98.6 L498.2,99.5 L498.7,100.5 L499.2,101.5 L499.7,102.5 L500.2,103.5 L500.7,104.5 L501.2,105.5 L501.7,106.6 L502.2,107.7 L502.7,108.7 L503.2,109.8 L503.7,110.9 L504.2,112.0 L504.7,113.1 L505.2,114.2 L505.7,115.3 L506.2,116.4 L506.7,117.5 L507.2,118.5 L507.7,119.6 L508.2,120.7 L508.7,121.7 L509.2,122.8 L509.7,123.8 L510.2,124.9 L510.7,125.9 L511.2,126.9 L511.7,127.8 L512.2,128.8 L512.7,129.7 L513.2,130.6 L513.7,131.5 L514.2,132.4 L514.7,133.2 L515.2,134.0 L515.7,134.8 L516.2,135.5 L516.7,136.3 L517.2,137.0 L517.7,137.6 L518.2,138.3 L518.7,138.9 L519.2,139.5 L519.7,140.1 L520.2,140.7 L520.7,141.2 L521.2,141.7 L521.7,142.2 L522.2,142.7 L522.7,143.2 L523.2,143.6 L523.7,144.0 L524.2,144.4 L524.7,144.8 L525.2,145.2 L525.7,145.5 L526.2,145.9 L526.7,146.2 L527.2,146.5 L527.7,146.8 L528.2,147.1 L528.7,147.3 L529.2,147.6 L529.7,147.8 L530.2,148.0 L530.7,148.2 L531.2,148.4 L531.7,148.6 L532.2,148.8 L532.7,148.9 L533.2,149.1 L533.7,149.2 L534.2,149.4 L534.7,149.5 L535.2,149.6 L535.7,149.7 L536.2,149.8 L536.7,149.9 L537.2,150.0 L537.7,150.1 L538.2,150.2 L538.7,150.2 L539.2,150.3 L539.7,150.4 L540.2,150.4 L540.7,150.5 L541.2,150.5 L541.7,150.6 L542.2,150.6 L542.7,150.7 L543.2,150.7 L543.7,150.8 L544.2,150.8 L544.7,150.9 L545.2,150.9 L545.7,151.0 L546.2,151.0 L546.7,151.1 L547.2,151.1 L547.7,151.2 L548.2,151.2 L548.7,151.3 L549.2,151.3 L549.7,151.3 L550.2,151.4 L550.7,151.4 L551.2,151.5 L551.7,151.5 L552.2,151.6 L552.7,151.6 L553.2,151.6 L553.7,151.7 L554.2,151.7 L554.7,151.8 L555.2,151.8 L555.7,151.8 L556.2,151.9 L556.7,151.9 L557.2,151.9 L557.7,152.0 L558.2,152.0 L558.7,152.0 L559.2,152.1 L559.7,152.1 L560.2,152.1 L560.7,152.2 L561.2,152.2 L561.7,152.2 L562.2,152.3 L562.7,152.3 L563.2,152.3 L563.7,152.4 L564.2,152.4 L564.7,152.4 L565.2,152.5 L565.7,152.5 L566.2,152.5 L566.7,152.5 L567.2,152.6 L567.7,152.6 L568.2,152.6 L568.7,152.6 L569.2,152.7 L569.7,152.7 L570.2,152.7 L570.7,152.7 L571.2,152.8 L571.7,152.8 L572.2,152.8 L572.7,152.8 L573.2,152.8 L573.7,152.9 L574.2,152.9 L574.7,152.9 L575.2,152.9 L575.7,152.9 L576.2,153.0 L576.7,153.0 L577.2,153.0 L577.7,153.0 L578.2,153.0 L578.7,153.1 L579.2,153.1 L579.7,153.1 L580.2,153.1 L580.7,153.1 L581.2,153.1 L581.7,153.1 L582.2,153.2 L582.7,153.2 L583.2,153.2 L583.7,153.2 L584.2,153.2 L584.7,153.2 L585.2,153.2 L585.7,153.2 L586.2,153.3 L586.7,153.3 L587.2,153.3 L587.7,153.3 L588.2,153.3 L588.7,153.3 L589.2,153.3 L589.7,153.3 L590.2,153.3 L590.7,153.3 L591.2,153.3 L591.7,153.4 L592.2,153.4 L592.7,153.4 L593.2,153.4 L593.7,153.4 L594.2,153.4 L594.7,153.4 L595.2,153.4 L595.7,153.4 L596.2,153.4 L596.7,153.4 L597.2,153.4 L597.7,153.4 L598.2,153.4 L598.7,153.4 L599.2,153.4 L599.7,153.4 L600.2,153.4 L600.7,153.4 L601.2,153.4 L601.7,153.4 L602.2,153.4 L602.7,153.4 L603.2,153.4 L603.7,153.4 L604.2,153.4 L604.7,153.4 L605.2,153.4 L605.7,153.4 L606.2,153.4 L606.7,153.4 L607.2,153.4 L607.7,153.4 L608.2,153.4 L608.7,153.4 L609.2,153.4 L609.7,153.4 L610.2,153.4 L610.7,153.4 L611.2,153.4 L611.7,153.4 L612.2,153.4 L612.7,153.4 L613.2,153.4 L613.7,153.4 L614.2,153.3 L614.7,153.3 L615.2,153.3 L615.7,153.3 L616.2,153.3 L616.7,153.3 L617.2,153.3 L617.7,153.3 L618.2,153.3 L618.7,153.3 L619.2,153.3 L619.7,153.3 L620.2,153.3 L620.7,153.2 L621.2,153.2 L621.7,153.2 L622.2,153.2 L622.7,153.2 L623.2,153.2 L623.7,153.2 L624.2,153.2 L624.7,153.2 L625.2,153.1 L625.7,153.1 L626.2,153.1 L626.7,153.1 L627.2,153.1 L627.7,153.1 L628.2,153.1 L628.7,153.1 L629.2,153.0 L629.7,153.0 L630.2,153.0 L630.7,153.0 L631.2,153.0 L631.7,153.0 L632.2,153.0 L632.7,152.9 L633.2,152.9 L633.7,152.9 L634.2,152.9 L634.7,152.9 L635.2,152.9 L635.7,152.9 L636.2,152.8 L636.7,152.8 L637.2,152.8 L637.7,152.8 L638.2,152.8 L638.7,152.8 L639.2,152.7 L639.7,152.7 L640.2,152.7 L640.7,152.7 L641.2,152.7 L641.7,152.7 L642.2,152.6 L642.7,152.6 L643.2,152.6 L643.7,152.6 L644.2,152.6 L644.7,152.5 L645.2,152.5 L645.7,152.5 L646.2,152.5 L646.7,152.5 L647.2,152.4 L647.7,152.4 L648.2,152.4 L648.7,152.4 L649.2,152.4 L649.7,152.4 L650.2,152.3 L650.7,152.3 L651.2,152.3 L651.7,152.3 L652.2,152.3 L652.7,152.2 L653.2,152.2 L653.7,152.2 L654.2,152.2 L654.7,152.1 L655.2,152.1 L655.7,152.1 L656.2,152.1 L656.7,152.1 L657.2,152.0 L657.7,152.0 L658.2,152.0 L658.7,152.0 L659.2,152.0 L659.7,151.9 L660.2,151.9 L660.7,151.9 L661.2,151.9 L661.7,151.8 L662.2,151.8 L662.7,151.8 L663.2,151.8 L663.7,151.8 L664.2,151.7 L664.7,151.7 L665.2,151.7 L665.7,151.7 L666.2,151.6 L666.7,151.6 L667.2,151.6 L667.7,151.6 L668.2,151.6 L668.7,151.5 L669.2,151.5 L669.7,151.5 L670.2,151.5 L670.7,151.4 L671.2,151.4 L671.7,151.4 L672.2,151.4 L672.7,151.4 L673.2,151.3 L673.7,151.3 L674.2,151.3 L674.7,151.3 L675.2,151.2 L675.7,151.2 L676.2,151.2 L676.7,151.2 L677.2,151.1 L677.7,151.1 L678.2,151.1 L678.7,151.1 L679.2,151.1 L679.7,151.0 L680.2,151.0 L680.7,151.0 L681.2,151.0 L681.7,150.9 L682.2,150.9 L682.7,150.9 L683.2,150.9 L683.7,150.9 L684.2,150.8 L684.7,150.8 L685.2,150.8 L685.7,150.8 L686.2,150.7 L686.7,150.7 L687.2,150.7 L687.7,150.7 L688.2,150.6 L688.7,150.6 L689.2,150.6 L689.7,150.6 L690.2,150.6 L690.7,150.5 L691.2,150.5 L691.7,150.5 L692.2,150.5 L692.7,150.4 L693.2,150.4 L693.7,150.4 L694.2,150.4 L694.7,150.4 L695.2,150.3 L695.7,150.3 L696.2,150.3 L696.7,150.3 L697.2,150.3 L697.7,150.2 L698.2,150.2 L698.7,150.2 L699.2,150.2 L699.7,150.1 L700.2,150.1 L700.7,150.1 L701.2,150.1 L701.7,150.1 L702.2,150.0 L702.7,150.0 L703.2,150.0 L703.7,150.0 L704.2,150.0 L704.7,149.9 L705.2,149.9 L705.7,149.9 L706.2,149.9 L706.7,149.9 L707.2,149.8 L707.7,149.8 L708.2,149.8 L708.7,149.8 L709.0,149.8" stroke="#ff0000" stroke-width="3" fill="none" stroke-linejoin="round" stroke-linecap="round"/>
<path d="M207.7,313.4 L208.2,312.8 L208.7,312.1 L209.2,311.5 L209.7,310.8 L210.2,310.2 L210.7,309.5 L211.2,308.9 L211.7,308.2 L212.2,307.6 L212.7,306.9 L213.2,306.3 L213.7,305.7 L214.2,305.0 L214.7,304.4 L215.2,303.7 L215.7,303.1 L216.2,302.4 L216.7,301.8 L217.2,301.1 L217.7,300.5 L218.2,299.8 L218.7,299.2 L219.2,298.5 L219.7,297.9 L220.2,297.2 L220.7,296.6 L221.2,295.9 L221.7,295.3 L222.2,294.6 L222.7,294.0 L223.2,293.3 L223.7,292.7 L224.2,292.0 L224.7,291.4 L225.2,290.7 L225.7,290.1 L226.2,289.4 L226.7,288.8 L227.2,288.2 L227.7,287.5 L228.2,286.9 L228.7,286.2 L229.2,285.6 L229.7,284.9 L230.2,284.3 L230.7,283.6 L231.2,283.0 L231.7,282.4 L232.2,281.7 L232.7,281.1 L233.2,280.4 L233.7,279.8 L234.2,279.2 L234.7,278.5 L235.2,277.9 L235.7,277.2 L236.2,276.6 L236.7,276.0 L237.2,275.3 L237.7,274.7 L238.2,274.1 L238.7,273.4 L239.2,272.8 L239.7,272.2 L240.2,271.5 L240.7,270.9 L241.2,270.3 L241.7,269.6 L242.2,269.0 L242.7,268.4 L243.2,267.8 L243.7,267.1 L244.2,266.5 L244.7,265.9 L245.2,265.3 L245.7,264.6 L246.2,264.0 L246.7,263.4 L247.2,262.8 L247.7,262.2 L248.2,261.6 L248.7,260.9 L249.2,260.3 L249.7,259.7 L250.2,259.1 L250.7,258.5 L251.2,257.9 L251.7,257.3 L252.2,256.7 L252.7,256.1 L253.2,255.5 L253.7,254.9 L254.2,254.3 L254.7,253.7 L255.2,253.1 L255.7,252.5 L256.2,251.9 L256.7,251.3 L257.2,250.7 L257.7,250.1 L258.2,249.5 L258.7,248.9 L259.2,248.3 L259.7,247.7 L260.2,247.2 L260.7,246.6 L261.2,246.0 L261.7,245.4 L262.2,244.8 L262.7,244.3 L263.2,243.7 L263.7,243.1 L264.2,242.5 L264.7,242.0 L265.2,241.4 L265.7,240.8 L266.2,240.3 L266.7,239.7 L267.2,239.2 L267.7,238.6 L268.2,238.0 L268.7,237.5 L269.2,236.9 L269.7,236.4 L270.2,235.8 L270.7,235.3 L271.2,234.7 L271.7,234.2 L272.2,233.7 L272.7,233.1 L273.2,232.6 L273.7,232.0 L274.2,231.5 L274.7,231.0 L275.2,230.5 L275.7,229.9 L276.2,229.4 L276.7,228.9 L277.2,228.4 L277.7,227.9 L278.2,227.3 L278.7,226.8 L279.2,226.3 L279.7,225.8 L280.2,225.3 L280.7,224.8 L281.2,224.3 L281.7,223.8 L282.2,223.3 L282.7,222.8 L283.2,222.3 L283.7,221.8 L284.2,221.3 L284.7,220.9 L285.2,220.4 L285.7,219.9 L286.2,219.4 L286.7,218.9 L287.2,218.5 L287.7,218.0 L288.2,217.5 L288.7,217.1 L289.2,216.6 L289.7,216.2 L290.2,215.7 L290.7,215.3 L291.2,214.8 L291.7,214.4 L292.2,213.9 L292.7,213.5 L293.2,213.0 L293.7,212.6 L294.2,212.2 L294.7,211.7 L295.2,211.3 L295.7,210.9 L296.2,210.5 L296.7,210.0 L297.2,209.6 L297.7,209.2 L298.2,208.8 L298.7,208.4 L299.2,208.0 L299.7,207.6 L300.2,207.2 L300.7,206.8 L301.2,206.4 L301.7,206.0 L302.2,205.6 L302.7,205.3 L303.2,204.9 L303.7,204.5 L304.2,204.1 L304.7,203.8 L305.2,203.4 L305.7,203.0 L306.2,202.7 L306.7,202.3 L307.2,202.0 L307.7,201.6 L308.2,201.3 L308.7,200.9 L309.2,200.6 L309.7,200.3 L310.2,199.9 L310.7,199.6 L311.2,199.3 L311.7,199.0 L312.2,198.6 L312.7,198.3 L313.2,198.0 L313.7,197.7 L314.2,197.4 L314.7,197.1 L315.2,196.8 L315.7,196.5 L316.2,196.2 L316.7,196.0 L317.2,195.7 L317.7,195.4 L318.2,195.1 L318.7,194.8 L319.2,194.6 L319.7,194.3 L320.2,194.1 L320.7,193.8 L321.2,193.6 L321.7,193.3 L322.2,193.1 L322.7,192.8 L323.2,192.6 L323.7,192.4 L324.2,192.1 L324.7,191.9 L325.2,191.7 L325.7,191.5 L326.2,191.3 L326.7,191.1 L327.2,190.8 L327.7,190.6 L328.2,190.5 L328.7,190.3 L329.2,190.1 L329.7,189.9 L330.2,189.7 L330.7,189.5 L331.2,189.4 L331.7,189.2 L332.2,189.0 L332.7,188.9 L333.2,188.7 L333.7,188.6 L334.2,188.4 L334.7,188.3 L335.2,188.2 L335.7,188.0 L336.2,187.9 L336.7,187.8 L337.2,187.7 L337.7,187.5 L338.2,187.4 L338.7,187.3 L339.2,187.2 L339.7,187.1 L340.2,187.0 L340.7,187.0 L341.2,186.9 L341.7,186.8 L342.2,186.7 L342.7,186.6 L343.2,186.6 L343.7,186.5 L344.2,186.5 L344.7,186.4 L345.2,186.4 L345.7,186.3 L346.2,186.3 L346.7,186.3 L347.2,186.2 L347.7,186.2 L348.2,186.2 L348.7,186.2 L349.2,186.2 L349.7,186.2 L350.2,186.2 L350.7,186.2 L351.2,186.2 L351.7,186.2 L352.2,186.2 L352.7,186.3 L353.2,186.3 L353.7,186.3 L354.2,186.4 L354.7,186.4 L355.2,186.4 L355.7,186.5 L356.2,186.5 L356.7,186.6 L357.2,186.7 L357.7,186.7 L358.2,186.8 L358.7,186.9 L359.2,186.9 L359.7,187.0 L360.2,187.1 L360.7,187.2 L361.2,187.2 L361.7,187.3 L362.2,187.4 L362.7,187.5 L363.2,187.6 L363.7,187.7 L364.2,187.8 L364.7,187.9 L365.2,188.0 L365.7,188.1 L366.2,188.2 L366.7,188.3 L367.2,188.5 L367.7,188.6 L368.2,188.7 L368.7,188.8 L369.2,188.9 L369.7,189.0 L370.2,189.2 L370.7,189.3 L371.2,189.4 L371.7,189.5 L372.2,189.7 L372.7,189.8 L373.2,189.9 L373.7,190.1 L374.2,190.2 L374.7,190.3 L375.2,190.5 L375.7,190.6 L376.2,190.7 L376.7,190.9 L377.2,191.0 L377.7,191.1 L378.2,191.3 L378.7,191.4 L379.2,191.5 L379.7,191.7 L380.2,191.8 L380.7,191.9 L381.2,192.1 L381.7,192.2 L382.2,192.3 L382.7,192.5 L383.2,192.6 L383.7,192.7 L384.2,192.8 L384.7,193.0 L385.2,193.1 L385.7,193.2 L386.2,193.3 L386.7,193.5 L387.2,193.6 L387.7,193.7 L388.2,193.8 L388.7,194.0 L389.2,194.1 L389.7,194.2 L390.2,194.3 L390.7,194.4 L391.2,194.5 L391.7,194.6 L392.2,194.7 L392.7,194.8 L393.2,194.9 L393.7,195.0 L394.2,195.1 L394.7,195.2 L395.2,195.3 L395.7,195.4 L396.2,195.5 L396.7,195.6 L397.2,195.6 L397.7,195.7 L398.2,195.8 L398.7,195.9 L399.2,195.9 L399.7,196.0 L400.2,196.0 L400.7,196.1 L401.2,196.2 L401.7,196.2 L402.2,196.2 L402.7,196.3 L403.2,196.3 L403.7,196.4 L404.2,196.4 L404.7,196.4 L405.2,196.4 L405.7,196.4 L406.2,196.5 L406.7,196.5 L407.2,196.5 L407.7,196.5 L408.2,196.5 L408.7,196.5 L409.2,196.4 L409.7,196.4 L410.2,196.4 L410.7,196.4 L411.2,196.4 L411.7,196.3 L412.2,196.3 L412.7,196.3 L413.2,196.2 L413.7,196.2 L414.2,196.1 L414.7,196.1 L415.2,196.0 L415.7,196.0 L416.2,195.9 L416.7,195.8 L417.2,195.8 L417.7,195.7 L418.2,195.6 L418.7,195.6 L419.2,195.5 L419.7,195.4 L420.2,195.3 L420.7,195.3 L421.2,195.2 L421.7,195.1 L422.2,195.0 L422.7,194.9 L423.2,194.8 L423.7,194.7 L424.2,194.6 L424.7,194.5 L425.2,194.4 L425.7,194.3 L426.2,194.2 L426.7,194.1 L427.2,194.0 L427.7,193.9 L428.2,193.8 L428.7,193.7 L429.2,193.6 L429.7,193.5 L430.2,193.4 L430.7,193.3 L431.2,193.2 L431.7,193.1 L432.2,192.9 L432.7,192.8 L433.2,192.7 L433.7,192.6 L434.2,192.5 L434.7,192.4 L435.2,192.2 L435.7,192.1 L436.2,192.0 L436.7,191.9 L437.2,191.8 L437.7,191.7 L438.2,191.5 L438.7,191.4 L439.2,191.3 L439.7,191.2 L440.2,191.1 L440.7,191.0 L441.2,190.8 L441.7,190.7 L442.2,190.6 L442.7,190.5 L443.2,190.4 L443.7,190.3 L444.2,190.2 L444.7,190.0 L445.2,189.9 L445.7,189.8 L446.2,189.7 L446.7,189.6 L447.2,189.5 L447.7,189.4 L448.2,189.2 L448.7,189.1 L449.2,189.0 L449.7,188.9 L450.2,188.8 L450.7,188.7 L451.2,188.5 L451.7,188.4 L452.2,188.3 L452.7,188.2 L453.2,188.1 L453.7,188.0 L454.2,187.9 L454.7,187.7 L455.2,187.6 L455.7,187.5 L456.2,187.4 L456.7,187.3 L457.2,187.2 L457.7,187.0 L458.2,186.9 L458.7,186.8 L459.2,186.7 L459.7,186.6 L460.2,186.5 L460.7,186.3 L461.2,186.2 L461.7,186.1 L462.2,186.0 L462.7,185.9 L463.2,185.7 L463.7,185.6 L464.2,185.5 L464.7,185.4 L465.2,185.3 L465.7,185.1 L466.2,185.0 L466.7,184.9 L467.2,184.8 L467.7,184.7 L468.2,184.5 L468.7,184.4 L469.2,184.3 L469.7,184.2 L470.2,184.0 L470.7,183.9 L471.2,183.8 L471.7,183.7 L472.2,183.5 L472.7,183.4 L473.2,183.3 L473.7,183.2 L474.2,183.0 L474.7,182.9 L475.2,182.8 L475.7,182.7 L476.2,182.5 L476.7,182.4 L477.2,182.3 L477.7,182.1 L478.2,182.0 L478.7,181.9 L479.2,181.7 L479.7,181.6 L480.2,181.5 L480.7,181.3 L481.2,181.2 L481.7,181.1 L482.2,180.9 L482.7,180.8 L483.2,180.7 L483.7,180.5 L484.2,180.4 L484.7,180.3 L485.2,180.1 L485.7,180.0 L486.2,179.9 L486.7,179.7 L487.2,179.6 L487.7,179.5 L488.2,179.3 L488.7,179.2 L489.2,179.0 L489.7,178.9 L490.2,178.8 L490.7,178.6 L491.2,178.5 L491.7,178.4 L492.2,178.2 L492.7,178.1 L493.2,177.9 L493.7,177.8 L494.2,177.7 L494.7,177.5 L495.2,177.4 L495.7,177.3 L496.2,177.1 L496.7,177.0 L497.2,176.9 L497.7,176.7 L498.2,176.6 L498.7,176.4 L499.2,176.3 L499.7,176.2 L500.2,176.0 L500.7,175.9 L501.2,175.8 L501.7,175.6 L502.2,175.5 L502.7,175.4 L503.2,175.2 L503.7,175.1 L504.2,175.0 L504.7,174.9 L505.2,174.7 L505.7,174.6 L506.2,174.5 L506.7,174.3 L507.2,174.2 L507.7,174.1 L508.2,173.9 L508.7,173.8 L509.2,173.7 L509.7,173.6 L510.2,173.4 L510.7,173.3 L511.2,173.2 L511.7,173.1 L512.2,173.0 L512.7,172.8 L513.2,172.7 L513.7,172.6 L514.2,172.5 L514.7,172.4 L515.2,172.2 L515.7,172.1 L516.2,172.0 L516.7,171.9 L517.2,171.8 L517.7,171.7 L518.2,171.5 L518.7,171.4 L519.2,171.3 L519.7,171.2 L520.2,171.1 L520.7,171.0 L521.2,170.9 L521.7,170.8 L522.2,170.7 L522.7,170.6 L523.2,170.5 L523.7,170.4 L524.2,170.3 L524.7,170.2 L525.2,170.1 L525.7,170.0 L526.2,169.9 L526.7,169.8 L527.2,169.7 L527.7,169.6 L528.2,169.5 L528.7,169.4 L529.2,169.3 L529.7,169.2 L530.2,169.2 L530.7,169.1 L531.2,169.0 L531.7,168.9 L532.2,168.8 L532.7,168.7 L533.2,168.6 L533.7,168.6 L534.2,168.5 L534.7,168.4 L535.2,168.3 L535.7,168.2 L536.2,168.2 L536.7,168.1 L537.2,168.0 L537.7,167.9 L538.2,167.9 L538.7,167.8 L539.2,167.7 L539.7,167.7 L540.2,167.6 L540.7,167.5 L541.2,167.5 L541.7,167.4 L542.2,167.3 L542.7,167.3 L543.2,167.2 L543.7,167.1 L544.2,167.1 L544.7,167.0 L545.2,166.9 L545.7,166.9 L546.2,166.8 L546.7,166.8 L547.2,166.7 L547.7,166.6 L548.2,166.6 L548.7,166.5 L549.2,166.5 L549.7,166.4 L550.2,166.4 L550.7,166.3 L551.2,166.3 L551.7,166.2 L552.2,166.2 L552.7,166.1 L553.2,166.1 L553.7,166.0 L554.2,166.0 L554.7,165.9 L555.2,165.9 L555.7,165.8 L556.2,165.8 L556.7,165.7 L557.2,165.7 L557.7,165.6 L558.2,165.6 L558.7,165.5 L559.2,165.5 L559.7,165.5 L560.2,165.4 L560.7,165.4 L561.2,165.3 L561.7,165.3 L562.2,165.3 L562.7,165.2 L563.2,165.2 L563.7,165.1 L564.2,165.1 L564.7,165.1 L565.2,165.0 L565.7,165.0 L566.2,165.0 L566.7,164.9 L567.2,164.9 L567.7,164.9 L568.2,164.8 L568.7,164.8 L569.2,164.8 L569.7,164.7 L570.2,164.7 L570.7,164.7 L571.2,164.6 L571.7,164.6 L572.2,164.6 L572.7,164.6 L573.2,164.5 L573.7,164.5 L574.2,164.5 L574.7,164.4 L575.2,164.4 L575.7,164.4 L576.2,164.4 L576.7,164.3 L577.2,164.3 L577.7,164.3 L578.2,164.3 L578.7,164.2 L579.2,164.2 L579.7,164.2 L580.2,164.2 L580.7,164.2 L581.2,164.1 L581.7,164.1 L582.2,164.1 L582.7,164.1 L583.2,164.0 L583.7,164.0 L584.2,164.0 L584.7,164.0 L585.2,164.0 L585.7,163.9 L586.2,163.9 L586.7,163.9 L587.2,163.9 L587.7,163.9 L588.2,163.8 L588.7,163.8 L589.2,163.8 L589.7,163.8 L590.2,163.8 L590.7,163.8 L591.2,163.7 L591.7,163.7 L592.2,163.7 L592.7,163.7 L593.2,163.7 L593.7,163.7 L594.2,163.6 L594.7,163.6 L595.2,163.6 L595.7,163.6 L596.2,163.6 L596.7,163.6 L597.2,163.5 L597.7,163.5 L598.2,163.5 L598.7,163.5 L599.2,163.5 L599.7,163.5 L600.2,163.4 L600.7,163.4 L601.2,163.4 L601.7,163.4 L602.2,163.4 L602.7,163.4 L603.2,163.4 L603.7,163.3 L604.2,163.3 L604.7,163.3 L605.2,163.3 L605.7,163.3 L606.2,163.3 L606.7,163.3 L607.2,163.2 L607.7,163.2 L608.2,163.2 L608.7,163.2 L609.2,163.2 L609.7,163.2 L610.2,163.2 L610.7,163.1 L611.2,163.1 L611.7,163.1 L612.2,163.1 L612.7,163.1 L613.2,163.1 L613.7,163.0 L614.2,163.0 L614.7,163.0 L615.2,163.0 L615.7,163.0 L616.2,163.0 L616.7,162.9 L617.2,162.9 L617.7,162.9 L618.2,162.9 L618.7,162.9 L619.2,162.9 L619.7,162.8 L620.2,162.8 L620.7,162.8 L621.2,162.8 L621.7,162.8 L622.2,162.8 L622.7,162.7 L623.2,162.7 L623.7,162.7 L624.2,162.7 L624.7,162.7 L625.2,162.6 L625.7,162.6 L626.2,162.6 L626.7,162.6 L627.2,162.6 L627.7,162.5 L628.2,162.5 L628.7,162.5 L629.2,162.5 L629.7,162.4 L630.2,162.4 L630.7,162.4 L631.2,162.4 L631.7,162.3 L632.2,162.3 L632.7,162.3 L633.2,162.3 L633.7,162.3 L634.2,162.2 L634.7,162.2 L635.2,162.2 L635.7,162.1 L636.2,162.1 L636.7,162.1 L637.2,162.1 L637.7,162.0 L638.2,162.0 L638.7,162.0 L639.2,161.9 L639.7,161.9 L640.2,161.9 L640.7,161.9 L641.2,161.8 L641.7,161.8 L642.2,161.8 L642.7,161.7 L643.2,161.7 L643.7,161.7 L644.2,161.6 L644.7,161.6 L645.2,161.6 L645.7,161.5 L646.2,161.5 L646.7,161.4 L647.2,161.4 L647.7,161.4 L648.2,161.3 L648.7,161.3 L649.2,161.2 L649.7,161.2 L650.2,161.2 L650.7,161.1 L651.2,161.1 L651.7,161.0 L652.2,161.0 L652.7,161.0 L653.2,160.9 L653.7,160.9 L654.2,160.8 L654.7,160.8 L655.2,160.7 L655.7,160.7 L656.2,160.6 L656.7,160.6 L657.2,160.5 L657.7,160.5 L658.2,160.4 L658.7,160.4 L659.2,160.3 L659.7,160.3 L660.2,160.2 L660.7,160.2 L661.2,160.1 L661.7,160.1 L662.2,160.0 L662.7,159.9 L663.2,159.9 L663.7,159.8 L664.2,159.8 L664.7,159.7 L665.2,159.6 L665.7,159.6 L666.2,159.5 L666.7,159.4 L667.2,159.4 L667.7,159.3 L668.2,159.3 L668.7,159.2 L669.2,159.1 L669.7,159.1 L670.2,159.0 L670.7,158.9 L671.2,158.8 L671.7,158.8 L672.2,158.7 L672.7,158.6 L673.2,158.5 L673.7,158.5 L674.2,158.4 L674.7,158.3 L675.2,158.2 L675.7,158.2 L676.2,158.1 L676.7,158.0 L677.2,157.9 L677.7,157.8 L678.2,157.8 L678.7,157.7 L679.2,157.6 L679.7,157.5 L680.2,157.4 L680.7,157.3 L681.2,157.2 L681.7,157.1 L682.2,157.0 L682.7,157.0 L683.2,156.9 L683.7,156.8 L684.2,156.7 L684.7,156.6 L685.2,156.5 L685.7,156.4 L686.2,156.3 L686.7,156.2 L687.2,156.1 L687.7,156.0 L688.2,155.9 L688.7,155.8 L689.2,155.7 L689.7,155.6 L690.2,155.4 L690.7,155.3 L691.2,155.2 L691.7,155.1 L692.2,155.0 L692.7,154.9 L693.2,154.8 L693.7,154.7 L694.2,154.5 L694.7,154.4 L695.2,154.3 L695.7,154.2 L696.2,154.1 L696.7,153.9 L697.2,153.8 L697.7,153.7 L698.2,153.6 L698.7,153.4 L699.2,153.3 L699.7,153.2 L700.2,153.0 L700.7,152.9 L701.2,152.8 L701.7,152.6 L702.2,152.5 L702.7,152.4 L703.2,152.2 L703.7,152.1 L704.2,151.9 L704.7,151.8 L705.2,151.7 L705.7,151.5 L706.2,151.4 L706.7,151.2 L707.2,151.1 L707.7,150.9 L708.2,150.8 L708.7,150.6 L709.0,150.5" stroke="#ff0000" stroke-width="3" fill="none" stroke-linejoin="round" stroke-linecap="round"/>
<g stroke="#111" stroke-width="1.6" fill="#111"><line x1="207.7" y1="232.8" x2="223" y2="207"/><polygon points="228.4,197.8 217.6,205.6 226.8,211" stroke="none"/><line x1="291.9" y1="283.5" x2="276" y2="310"/><polygon points="270.2,319.8 271.7,306.6 281.2,312.2" stroke="none"/></g>
<g transform="translate(340.24,87.40) scale(1.0792,1.0417)"><text x="0" y="0" font-size="36" font-weight="bold" text-anchor="start" fill="#000" >O</text></g>
<g transform="translate(371.24,95.30) scale(0.8300,0.9706)"><text x="0" y="0" font-size="26" font-weight="bold" text-anchor="start" fill="#000" >1</text></g>
<g transform="translate(497.54,88.60) scale(1.0792,1.0167)"><text x="0" y="0" font-size="36" font-weight="bold" text-anchor="start" fill="#000" >O</text></g>
<g transform="translate(528.44,96.80) scale(0.8636,0.9706)"><text x="0" y="0" font-size="26" font-weight="bold" text-anchor="start" fill="#000" >2</text></g>
<g transform="translate(402.30,296.30) scale(0.9778,1.0125)"><text x="0" y="0" font-size="36" font-weight="bold" text-anchor="start" fill="#000" >R</text></g>
<g transform="translate(429.04,304.50) scale(0.9289,0.9706)"><text x="0" y="0" font-size="26" font-weight="bold" text-anchor="start" fill="#000" >1+2</text></g>
<g transform="translate(243.50,381.90) scale(0.9630,1.0292)"><text x="0" y="0" font-size="36" font-weight="bold" text-anchor="start" fill="#000" >R</text></g>
<g transform="translate(269.33,389.90) scale(0.9727,1.0059)"><text x="0" y="0" font-size="26" font-weight="bold" text-anchor="start" fill="#000" >3</text></g>
<g transform="translate(766.01,120.24) scale(0.9943,0.9615)"><text x="0" y="0" font-size="38" font-weight="bold" text-anchor="start" fill="#1f4788" >IL/W</text></g>
<g transform="translate(766.48,167.00) scale(1.0151,0.9278)"><text x="0" y="0" font-size="38" font-weight="bold" text-anchor="start" fill="#1f4788" >microemulsion</text></g>
<g transform="translate(766.90,265.53) scale(0.9899,0.9731)"><text x="0" y="0" font-size="38" font-weight="bold" text-anchor="start" fill="#ff0000" >W-S</text></g>
<g transform="translate(766.90,362.56) scale(0.9526,0.9423)"><text x="0" y="0" font-size="38" font-weight="bold" text-anchor="start" fill="#5aa55a" >W</text></g>
<line x1="179.3" x2="739.6" y1="628.8" y2="628.8" stroke="#f5f5f5" stroke-width="1.3"/>
<line x1="179.3" x2="739.6" y1="690.8" y2="690.8" stroke="#d9d9d9" stroke-width="1.3"/>
<line x1="179.3" x2="739.6" y1="752.9" y2="752.9" stroke="#f5f5f5" stroke-width="1.3"/>
<line x1="179.3" x2="739.6" y1="815.0" y2="815.0" stroke="#d9d9d9" stroke-width="1.3"/>
<line x1="179.3" x2="739.6" y1="877.0" y2="877.0" stroke="#f5f5f5" stroke-width="1.3"/>
<line x1="179.3" x2="739.6" y1="939.1" y2="939.1" stroke="#d9d9d9" stroke-width="1.3"/>
<line x1="237.8" x2="237.8" y1="566.7" y2="981.4" stroke="#f5f5f5" stroke-width="1.3"/>
<line x1="296.2" x2="296.2" y1="566.7" y2="981.4" stroke="#d9d9d9" stroke-width="1.3"/>
<line x1="354.7" x2="354.7" y1="566.7" y2="981.4" stroke="#f5f5f5" stroke-width="1.3"/>
<line x1="413.1" x2="413.1" y1="566.7" y2="981.4" stroke="#d9d9d9" stroke-width="1.3"/>
<line x1="471.6" x2="471.6" y1="566.7" y2="981.4" stroke="#f5f5f5" stroke-width="1.3"/>
<line x1="530.0" x2="530.0" y1="566.7" y2="981.4" stroke="#d9d9d9" stroke-width="1.3"/>
<line x1="588.5" x2="588.5" y1="566.7" y2="981.4" stroke="#f5f5f5" stroke-width="1.3"/>
<line x1="646.9" x2="646.9" y1="566.7" y2="981.4" stroke="#d9d9d9" stroke-width="1.3"/>
<line x1="705.4" x2="705.4" y1="566.7" y2="981.4" stroke="#f5f5f5" stroke-width="1.3"/>
<path d="M179.3,566.7h-9 M739.6,566.7h-9 M179.3,628.8h-5 M739.6,628.8h-5 M179.3,690.8h-9 M739.6,690.8h-9 M179.3,752.9h-5 M739.6,752.9h-5 M179.3,815.0h-9 M739.6,815.0h-9 M179.3,877.0h-5 M739.6,877.0h-5 M179.3,939.1h-9 M739.6,939.1h-9 M179.3,981.4v9 M179.3,566.7v9 M237.8,981.4v5 M237.8,566.7v5 M296.2,981.4v9 M296.2,566.7v9 M354.7,981.4v5 M354.7,566.7v5 M413.1,981.4v9 M413.1,566.7v9 M471.6,981.4v5 M471.6,566.7v5 M530.0,981.4v9 M530.0,566.7v9 M588.5,981.4v5 M588.5,566.7v5 M646.9,981.4v9 M646.9,566.7v9 M705.4,981.4v5 M705.4,566.7v5" stroke="#454545" stroke-width="2.2" fill="none"/>
<rect x="179.3" y="566.7" width="560.3" height="414.69999999999993" fill="none" stroke="#454545" stroke-width="2.5"/>
<text transform="translate(163.65,573.48) scale(1.047,1.09)" x="0" y="0" font-size="24" text-anchor="end" class="tk">0.00</text>
<text transform="translate(163.65,698.60) scale(1.047,1.09)" x="0" y="0" font-size="24" text-anchor="end" class="tk">-0.75</text>
<text transform="translate(163.65,823.42) scale(1.047,1.09)" x="0" y="0" font-size="24" text-anchor="end" class="tk">-1.50</text>
<text transform="translate(163.65,948.05) scale(1.047,1.09)" x="0" y="0" font-size="24" text-anchor="end" class="tk">-2.25</text>
<text transform="translate(179.30,1015.35) scale(1.047,1.09)" x="0" y="0" font-size="24" text-anchor="middle" class="tk">0</text>
<text transform="translate(296.20,1015.35) scale(1.047,1.09)" x="0" y="0" font-size="24" text-anchor="middle" class="tk">5000</text>
<text transform="translate(413.10,1015.35) scale(1.047,1.09)" x="0" y="0" font-size="24" text-anchor="middle" class="tk">10000</text>
<text transform="translate(530.00,1015.35) scale(1.047,1.09)" x="0" y="0" font-size="24" text-anchor="middle" class="tk">15000</text>
<text transform="translate(646.90,1015.35) scale(1.047,1.09)" x="0" y="0" font-size="24" text-anchor="middle" class="tk">20000</text>
<g transform="translate(405.90,1064.70) scale(1.0065,1.0381)"><text x="0" y="0" font-size="32" font-weight="bold" text-anchor="start" fill="#000" >Time / s</text></g>
<g transform="translate(0,535.5) translate(71.00,333.00) scale(0.9862,1.0169)"><g transform="rotate(-90)"><text x="0" y="0" font-size="32" font-weight="bold" text-anchor="start" fill="#000" >j / mA·cm</text></g></g>
<g transform="translate(0,535.5) translate(59.70,192.17) scale(0.9538,0.9714)"><g transform="rotate(-90)"><text x="0" y="0" font-size="19" font-weight="bold" text-anchor="start" fill="#000" >-2</text></g></g>
<g transform="translate(17.29,566.03) scale(1.0087,1.0212)"><text x="0" y="0" font-size="36"  text-anchor="start" fill="#000" stroke="#000" stroke-width="0.3">(B)</text></g>
<path d="M179.7,769.1 L180.5,775.6 L181.6,785.1 L183.0,796.1 L185.2,805.5 L187.0,809.2 L189.6,805.5 L191.8,796.1 L194.0,787.3 L196.9,779.3 L200.5,774.2 L205.6,771.3 L210.0,769.8 L212.0,765.0 L215.0,764.5 L217.0,768.5 L218.8,769.1 L226.1,766.9 L233.4,764.0 L240.6,763.2 L245.0,763.6 L252.8,762.5 L260.1,763.9 L266.5,766.6 L273.8,771.2 L280.1,775.7 L284.7,778.5 L290.0,780.5 L299.1,783.7 L308.2,790.1 L317.3,796.4 L326.4,801.0 L332.8,805.6 L337.4,811.0 L344.7,816.5 L352.0,821.0 L358.3,827.4 L364.7,834.7 L374.2,843.9 L381.3,852.1 L388.4,864.0 L395.6,875.9 L402.7,884.1 L409.8,894.8 L416.9,903.1 L422.8,910.2 L427.6,913.8 L433.5,918.5 L440.9,919.5 L451.9,925.0 L456.2,928.3 L462.8,928.8 L473.7,928.8 L481.4,929.3 L481.6,931.5" stroke="#008000" stroke-width="5.3" fill="none" stroke-linejoin="round" stroke-linecap="round"/>
<path d="M181.0,710.3 L188.7,710.1 L195.5,709.4 L202.3,707.3 L209.2,705.3 L216.0,703.2 L222.8,700.5 L230.0,699.1 L239.1,696.4 L248.2,693.7 L257.3,691.9 L266.5,690.0 L275.6,688.7 L284.7,687.9 L293.8,688.4 L310.0,688.5 L331.0,688.0 L351.5,688.0 L378.2,688.0 L398.7,690.3 L420.0,692.0 L433.6,692.4 L441.8,691.2 L458.2,693.0 L474.6,694.7 L486.9,693.5 L500.0,693.8 L511.5,694.3 L533.0,695.6 L565.2,695.9 L586.7,697.6 L608.2,701.2 L629.6,704.6 L651.1,708.3 L672.6,711.1 L690.9,713.7" stroke="#0000ff" stroke-width="5" fill="none" stroke-linejoin="round" stroke-linecap="round"/>
<path d="M180.1,694.0 L180.5,696.4 L181.2,703.9 L182.5,712.8 L184.6,719.6 L187.3,724.4 L190.0,727.8 L193.5,727.8 L195.5,730.6 L197.6,734.7 L198.9,741.5 L202.3,743.6 L209.2,742.9 L216.0,740.8 L221.5,738.8 L223.2,738.0 L224.2,727.8 L225.2,738.0 L227.0,738.8 L229.7,734.7 L232.7,735.6 L235.5,740.2 L239.1,743.8 L240.9,743.0 L241.9,718.8 L244.5,718.8 L246.4,745.6 L251.0,749.3 L255.5,752.0 L260.1,756.6 L264.6,760.2 L270.1,762.0 L275.6,763.0 L277.4,764.8 L281.0,768.4 L284.7,770.2 L289.3,773.9 L293.8,776.6 L299.1,781.0 L308.2,785.5 L317.3,790.1 L326.4,794.6 L335.6,798.3 L341.0,800.1 L349.2,805.6 L356.0,806.5 L359.2,805.5 L362.9,811.9 L371.9,816.6 L383.7,820.7 L395.6,825.5 L407.4,830.2 L419.3,835.6 L430.0,838.6 L440.9,843.5 L448.6,847.9 L450.5,847.0 L452.3,837.5 L454.5,837.5 L456.2,850.0 L457.3,850.6 L462.8,851.7 L468.3,852.8 L473.7,855.0 L484.7,856.1 L495.6,856.6 L506.5,857.7 L517.5,858.8 L528.4,859.9 L531.7,860.5" stroke="#ff0000" stroke-width="5.5" fill="none" stroke-linejoin="round" stroke-linecap="round"/>
<path d="M471,842 L471,849" stroke="#ff0000" stroke-width="4" stroke-linecap="round"/>
<circle cx="471" cy="837.5" r="2.6" fill="#ff0000"/>
<rect x="178.3" y="688.6" width="6.3" height="5.2" fill="#ff0000"/>
<ellipse cx="179.8" cy="729.2" rx="1.8" ry="2.8" fill="#0000ff"/>
<ellipse cx="179.8" cy="909" rx="1.6" ry="2.2" fill="#008000"/>
<g transform="translate(352.92,662.15) scale(0.9818,0.9538)"><text x="0" y="0" font-size="38" font-weight="bold" text-anchor="start" fill="#1f4788" >IL/W</text></g>
<g transform="translate(452.89,663.00) scale(1.0142,0.9556)"><text x="0" y="0" font-size="38" font-weight="bold" text-anchor="start" fill="#1f4788" >microemulsion</text></g>
<g transform="translate(531.30,842.73) scale(0.9899,0.9692)"><text x="0" y="0" font-size="38" font-weight="bold" text-anchor="start" fill="#ff0000" >W-S</text></g>
<g transform="translate(489.60,917.38) scale(0.9342,0.9192)"><text x="0" y="0" font-size="38" font-weight="bold" text-anchor="start" fill="#5aa55a" >W</text></g>
</svg></body></html>
